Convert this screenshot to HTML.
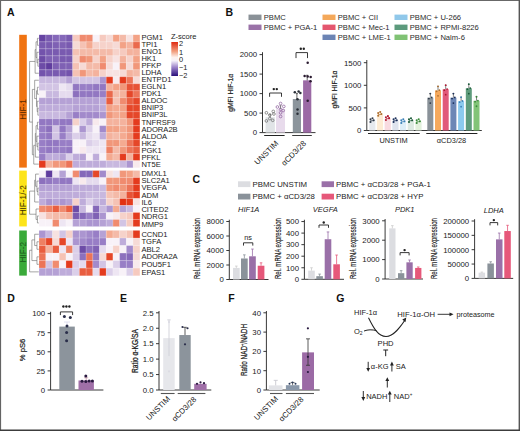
<!DOCTYPE html><html><head><meta charset="utf-8"><style>html,body{margin:0;padding:0;background:#fff;width:520px;height:431px;overflow:hidden}svg{display:block}</style></head><body>
<svg width="520" height="431" viewBox="0 0 520 431" font-family="Liberation Sans, sans-serif">
<rect x="0.00" y="0.00" width="520.00" height="431.00" fill="#fff"/>
<text x="7" y="15.6" font-size="10.5" text-anchor="start" fill="#111" font-weight="bold">A</text>
<rect x="19.20" y="34.80" width="7.60" height="132.81" fill="#f07312"/>
<text x="25.9" y="109.5" font-size="8.2" text-anchor="middle" fill="#5a2a00" transform="rotate(-90 25.9 109.5)">HIF-1</text>
<rect x="39.10" y="34.80" width="6.76" height="7.04" fill="#6644a3"/>
<rect x="45.81" y="34.80" width="6.76" height="7.04" fill="#795ab0"/>
<rect x="52.52" y="34.80" width="6.76" height="7.04" fill="#8568b9"/>
<rect x="59.23" y="34.80" width="6.76" height="7.04" fill="#8568b9"/>
<rect x="65.94" y="34.80" width="6.76" height="7.04" fill="#795ab0"/>
<rect x="72.65" y="34.80" width="6.76" height="7.04" fill="#f6cabf"/>
<rect x="79.36" y="34.80" width="6.76" height="7.04" fill="#f08b6f"/>
<rect x="86.07" y="34.80" width="6.76" height="7.04" fill="#f08b6f"/>
<rect x="92.78" y="34.80" width="6.76" height="7.04" fill="#f8f2f8"/>
<rect x="99.49" y="34.80" width="6.76" height="7.04" fill="#f6cabf"/>
<rect x="106.20" y="34.80" width="6.76" height="7.04" fill="#f6dad6"/>
<rect x="112.91" y="34.80" width="6.76" height="7.04" fill="#f3a286"/>
<rect x="119.62" y="34.80" width="6.76" height="7.04" fill="#f4baa8"/>
<rect x="126.33" y="34.80" width="6.76" height="7.04" fill="#f7e2e1"/>
<rect x="133.04" y="34.80" width="6.76" height="7.04" fill="#f3a286"/>
<text x="141.4" y="39.9" font-size="7.6" text-anchor="start" fill="#222">PGM1</text>
<rect x="39.10" y="41.79" width="6.76" height="7.04" fill="#795ab0"/>
<rect x="45.81" y="41.79" width="6.76" height="7.04" fill="#795ab0"/>
<rect x="52.52" y="41.79" width="6.76" height="7.04" fill="#7f61b4"/>
<rect x="59.23" y="41.79" width="6.76" height="7.04" fill="#7f61b4"/>
<rect x="65.94" y="41.79" width="6.76" height="7.04" fill="#795ab0"/>
<rect x="72.65" y="41.79" width="6.76" height="7.04" fill="#f6dad6"/>
<rect x="79.36" y="41.79" width="6.76" height="7.04" fill="#f5c2b4"/>
<rect x="86.07" y="41.79" width="6.76" height="7.04" fill="#f4aa91"/>
<rect x="92.78" y="41.79" width="6.76" height="7.04" fill="#f6d2ca"/>
<rect x="99.49" y="41.79" width="6.76" height="7.04" fill="#f6d2ca"/>
<rect x="106.20" y="41.79" width="6.76" height="7.04" fill="#f6d2ca"/>
<rect x="112.91" y="41.79" width="6.76" height="7.04" fill="#f6dad6"/>
<rect x="119.62" y="41.79" width="6.76" height="7.04" fill="#f3a286"/>
<rect x="126.33" y="41.79" width="6.76" height="7.04" fill="#f4b29d"/>
<rect x="133.04" y="41.79" width="6.76" height="7.04" fill="#ea694c"/>
<text x="141.4" y="46.949999999999996" font-size="7.6" text-anchor="start" fill="#222">TPI1</text>
<rect x="39.10" y="48.78" width="6.76" height="7.04" fill="#7353ac"/>
<rect x="45.81" y="48.78" width="6.76" height="7.04" fill="#795ab0"/>
<rect x="52.52" y="48.78" width="6.76" height="7.04" fill="#795ab0"/>
<rect x="59.23" y="48.78" width="6.76" height="7.04" fill="#795ab0"/>
<rect x="65.94" y="48.78" width="6.76" height="7.04" fill="#795ab0"/>
<rect x="72.65" y="48.78" width="6.76" height="7.04" fill="#f5c2b4"/>
<rect x="79.36" y="48.78" width="6.76" height="7.04" fill="#f4baa8"/>
<rect x="86.07" y="48.78" width="6.76" height="7.04" fill="#f4baa8"/>
<rect x="92.78" y="48.78" width="6.76" height="7.04" fill="#f4baa8"/>
<rect x="99.49" y="48.78" width="6.76" height="7.04" fill="#f4baa8"/>
<rect x="106.20" y="48.78" width="6.76" height="7.04" fill="#f4baa8"/>
<rect x="112.91" y="48.78" width="6.76" height="7.04" fill="#f6d2ca"/>
<rect x="119.62" y="48.78" width="6.76" height="7.04" fill="#f6cabf"/>
<rect x="126.33" y="48.78" width="6.76" height="7.04" fill="#f4b29d"/>
<rect x="133.04" y="48.78" width="6.76" height="7.04" fill="#f4b29d"/>
<text x="141.4" y="54.0" font-size="7.6" text-anchor="start" fill="#222">ENO1</text>
<rect x="39.10" y="55.77" width="6.76" height="7.04" fill="#6d4ca7"/>
<rect x="45.81" y="55.77" width="6.76" height="7.04" fill="#7f61b4"/>
<rect x="52.52" y="55.77" width="6.76" height="7.04" fill="#7f61b4"/>
<rect x="59.23" y="55.77" width="6.76" height="7.04" fill="#795ab0"/>
<rect x="65.94" y="55.77" width="6.76" height="7.04" fill="#795ab0"/>
<rect x="72.65" y="55.77" width="6.76" height="7.04" fill="#f6d2ca"/>
<rect x="79.36" y="55.77" width="6.76" height="7.04" fill="#f08b6f"/>
<rect x="86.07" y="55.77" width="6.76" height="7.04" fill="#f1977a"/>
<rect x="92.78" y="55.77" width="6.76" height="7.04" fill="#f6d2ca"/>
<rect x="99.49" y="55.77" width="6.76" height="7.04" fill="#f3a286"/>
<rect x="106.20" y="55.77" width="6.76" height="7.04" fill="#f6d2ca"/>
<rect x="112.91" y="55.77" width="6.76" height="7.04" fill="#f7e2e1"/>
<rect x="119.62" y="55.77" width="6.76" height="7.04" fill="#f4b29d"/>
<rect x="126.33" y="55.77" width="6.76" height="7.04" fill="#f6d2ca"/>
<rect x="133.04" y="55.77" width="6.76" height="7.04" fill="#f3a286"/>
<text x="141.4" y="61.05" font-size="7.6" text-anchor="start" fill="#222">HK1</text>
<rect x="39.10" y="62.76" width="6.76" height="7.04" fill="#6d4ca7"/>
<rect x="45.81" y="62.76" width="6.76" height="7.04" fill="#603d9e"/>
<rect x="52.52" y="62.76" width="6.76" height="7.04" fill="#7f61b4"/>
<rect x="59.23" y="62.76" width="6.76" height="7.04" fill="#7f61b4"/>
<rect x="65.94" y="62.76" width="6.76" height="7.04" fill="#7f61b4"/>
<rect x="72.65" y="62.76" width="6.76" height="7.04" fill="#f5c2b4"/>
<rect x="79.36" y="62.76" width="6.76" height="7.04" fill="#f6dad6"/>
<rect x="86.07" y="62.76" width="6.76" height="7.04" fill="#f4baa8"/>
<rect x="92.78" y="62.76" width="6.76" height="7.04" fill="#f4baa8"/>
<rect x="99.49" y="62.76" width="6.76" height="7.04" fill="#f08b6f"/>
<rect x="106.20" y="62.76" width="6.76" height="7.04" fill="#f6dad6"/>
<rect x="112.91" y="62.76" width="6.76" height="7.04" fill="#f8f2f8"/>
<rect x="119.62" y="62.76" width="6.76" height="7.04" fill="#f1977a"/>
<rect x="126.33" y="62.76" width="6.76" height="7.04" fill="#f6dad6"/>
<rect x="133.04" y="62.76" width="6.76" height="7.04" fill="#f1977a"/>
<text x="141.4" y="68.1" font-size="7.6" text-anchor="start" fill="#222">PFKP</text>
<rect x="39.10" y="69.75" width="6.76" height="7.04" fill="#7353ac"/>
<rect x="45.81" y="69.75" width="6.76" height="7.04" fill="#795ab0"/>
<rect x="52.52" y="69.75" width="6.76" height="7.04" fill="#795ab0"/>
<rect x="59.23" y="69.75" width="6.76" height="7.04" fill="#795ab0"/>
<rect x="65.94" y="69.75" width="6.76" height="7.04" fill="#7353ac"/>
<rect x="72.65" y="69.75" width="6.76" height="7.04" fill="#f5c2b4"/>
<rect x="79.36" y="69.75" width="6.76" height="7.04" fill="#f1977a"/>
<rect x="86.07" y="69.75" width="6.76" height="7.04" fill="#f4baa8"/>
<rect x="92.78" y="69.75" width="6.76" height="7.04" fill="#f4b29d"/>
<rect x="99.49" y="69.75" width="6.76" height="7.04" fill="#f6d2ca"/>
<rect x="106.20" y="69.75" width="6.76" height="7.04" fill="#f7e2e1"/>
<rect x="112.91" y="69.75" width="6.76" height="7.04" fill="#f7e2e1"/>
<rect x="119.62" y="69.75" width="6.76" height="7.04" fill="#f6dad6"/>
<rect x="126.33" y="69.75" width="6.76" height="7.04" fill="#f4b29d"/>
<rect x="133.04" y="69.75" width="6.76" height="7.04" fill="#f4baa8"/>
<text x="141.4" y="75.15" font-size="7.6" text-anchor="start" fill="#222">LDHA</text>
<rect x="39.10" y="76.74" width="6.76" height="7.04" fill="#c8b8df"/>
<rect x="45.81" y="76.74" width="6.76" height="7.04" fill="#c8b8df"/>
<rect x="52.52" y="76.74" width="6.76" height="7.04" fill="#c8b8df"/>
<rect x="59.23" y="76.74" width="6.76" height="7.04" fill="#c8b8df"/>
<rect x="65.94" y="76.74" width="6.76" height="7.04" fill="#b5a1d5"/>
<rect x="72.65" y="76.74" width="6.76" height="7.04" fill="#d2c4e4"/>
<rect x="79.36" y="76.74" width="6.76" height="7.04" fill="#d2c4e4"/>
<rect x="86.07" y="76.74" width="6.76" height="7.04" fill="#d2c4e4"/>
<rect x="92.78" y="76.74" width="6.76" height="7.04" fill="#d2c4e4"/>
<rect x="99.49" y="76.74" width="6.76" height="7.04" fill="#ab95d0"/>
<rect x="106.20" y="76.74" width="6.76" height="7.04" fill="#e43b1e"/>
<rect x="112.91" y="76.74" width="6.76" height="7.04" fill="#f8eaed"/>
<rect x="119.62" y="76.74" width="6.76" height="7.04" fill="#e43b1e"/>
<rect x="126.33" y="76.74" width="6.76" height="7.04" fill="#ec7458"/>
<rect x="133.04" y="76.74" width="6.76" height="7.04" fill="#f6dad6"/>
<text x="141.4" y="82.19999999999999" font-size="7.6" text-anchor="start" fill="#222">ENTPD1</text>
<rect x="39.10" y="83.73" width="6.76" height="7.04" fill="#d2c4e4"/>
<rect x="45.81" y="83.73" width="6.76" height="7.04" fill="#d2c4e4"/>
<rect x="52.52" y="83.73" width="6.76" height="7.04" fill="#d2c4e4"/>
<rect x="59.23" y="83.73" width="6.76" height="7.04" fill="#eee6f3"/>
<rect x="65.94" y="83.73" width="6.76" height="7.04" fill="#e5dbee"/>
<rect x="72.65" y="83.73" width="6.76" height="7.04" fill="#9277c2"/>
<rect x="79.36" y="83.73" width="6.76" height="7.04" fill="#987ec6"/>
<rect x="86.07" y="83.73" width="6.76" height="7.04" fill="#987ec6"/>
<rect x="92.78" y="83.73" width="6.76" height="7.04" fill="#9277c2"/>
<rect x="99.49" y="83.73" width="6.76" height="7.04" fill="#9277c2"/>
<rect x="106.20" y="83.73" width="6.76" height="7.04" fill="#f4b29d"/>
<rect x="112.91" y="83.73" width="6.76" height="7.04" fill="#f3a286"/>
<rect x="119.62" y="83.73" width="6.76" height="7.04" fill="#f1977a"/>
<rect x="126.33" y="83.73" width="6.76" height="7.04" fill="#e75235"/>
<rect x="133.04" y="83.73" width="6.76" height="7.04" fill="#e75235"/>
<text x="141.4" y="89.25" font-size="7.6" text-anchor="start" fill="#222">EGLN1</text>
<rect x="39.10" y="90.72" width="6.76" height="7.04" fill="#f8f2f8"/>
<rect x="45.81" y="90.72" width="6.76" height="7.04" fill="#c8b8df"/>
<rect x="52.52" y="90.72" width="6.76" height="7.04" fill="#c8b8df"/>
<rect x="59.23" y="90.72" width="6.76" height="7.04" fill="#e5dbee"/>
<rect x="65.94" y="90.72" width="6.76" height="7.04" fill="#e5dbee"/>
<rect x="72.65" y="90.72" width="6.76" height="7.04" fill="#8c70bd"/>
<rect x="79.36" y="90.72" width="6.76" height="7.04" fill="#9277c2"/>
<rect x="86.07" y="90.72" width="6.76" height="7.04" fill="#9277c2"/>
<rect x="92.78" y="90.72" width="6.76" height="7.04" fill="#9277c2"/>
<rect x="99.49" y="90.72" width="6.76" height="7.04" fill="#987ec6"/>
<rect x="106.20" y="90.72" width="6.76" height="7.04" fill="#ea694c"/>
<rect x="112.91" y="90.72" width="6.76" height="7.04" fill="#f4baa8"/>
<rect x="119.62" y="90.72" width="6.76" height="7.04" fill="#f4b29d"/>
<rect x="126.33" y="90.72" width="6.76" height="7.04" fill="#e54729"/>
<rect x="133.04" y="90.72" width="6.76" height="7.04" fill="#ec7458"/>
<text x="141.4" y="96.3" font-size="7.6" text-anchor="start" fill="#222">PDK1</text>
<rect x="39.10" y="97.71" width="6.76" height="7.04" fill="#b5a1d5"/>
<rect x="45.81" y="97.71" width="6.76" height="7.04" fill="#b5a1d5"/>
<rect x="52.52" y="97.71" width="6.76" height="7.04" fill="#b5a1d5"/>
<rect x="59.23" y="97.71" width="6.76" height="7.04" fill="#b5a1d5"/>
<rect x="65.94" y="97.71" width="6.76" height="7.04" fill="#b5a1d5"/>
<rect x="72.65" y="97.71" width="6.76" height="7.04" fill="#b5a1d5"/>
<rect x="79.36" y="97.71" width="6.76" height="7.04" fill="#b5a1d5"/>
<rect x="86.07" y="97.71" width="6.76" height="7.04" fill="#b5a1d5"/>
<rect x="92.78" y="97.71" width="6.76" height="7.04" fill="#b5a1d5"/>
<rect x="99.49" y="97.71" width="6.76" height="7.04" fill="#beacda"/>
<rect x="106.20" y="97.71" width="6.76" height="7.04" fill="#e95e40"/>
<rect x="112.91" y="97.71" width="6.76" height="7.04" fill="#f5c2b4"/>
<rect x="119.62" y="97.71" width="6.76" height="7.04" fill="#f08b6f"/>
<rect x="126.33" y="97.71" width="6.76" height="7.04" fill="#e95e40"/>
<rect x="133.04" y="97.71" width="6.76" height="7.04" fill="#e54729"/>
<text x="141.4" y="103.35" font-size="7.6" text-anchor="start" fill="#222">ALDOC</text>
<rect x="39.10" y="104.70" width="6.76" height="7.04" fill="#beacda"/>
<rect x="45.81" y="104.70" width="6.76" height="7.04" fill="#beacda"/>
<rect x="52.52" y="104.70" width="6.76" height="7.04" fill="#beacda"/>
<rect x="59.23" y="104.70" width="6.76" height="7.04" fill="#beacda"/>
<rect x="65.94" y="104.70" width="6.76" height="7.04" fill="#beacda"/>
<rect x="72.65" y="104.70" width="6.76" height="7.04" fill="#b5a1d5"/>
<rect x="79.36" y="104.70" width="6.76" height="7.04" fill="#b5a1d5"/>
<rect x="86.07" y="104.70" width="6.76" height="7.04" fill="#b5a1d5"/>
<rect x="92.78" y="104.70" width="6.76" height="7.04" fill="#b5a1d5"/>
<rect x="99.49" y="104.70" width="6.76" height="7.04" fill="#beacda"/>
<rect x="106.20" y="104.70" width="6.76" height="7.04" fill="#f3a286"/>
<rect x="112.91" y="104.70" width="6.76" height="7.04" fill="#f4aa91"/>
<rect x="119.62" y="104.70" width="6.76" height="7.04" fill="#f3a286"/>
<rect x="126.33" y="104.70" width="6.76" height="7.04" fill="#e54729"/>
<rect x="133.04" y="104.70" width="6.76" height="7.04" fill="#e54729"/>
<text x="141.4" y="110.4" font-size="7.6" text-anchor="start" fill="#222">BNIP3</text>
<rect x="39.10" y="111.69" width="6.76" height="7.04" fill="#c8b8df"/>
<rect x="45.81" y="111.69" width="6.76" height="7.04" fill="#c8b8df"/>
<rect x="52.52" y="111.69" width="6.76" height="7.04" fill="#c8b8df"/>
<rect x="59.23" y="111.69" width="6.76" height="7.04" fill="#c8b8df"/>
<rect x="65.94" y="111.69" width="6.76" height="7.04" fill="#b5a1d5"/>
<rect x="72.65" y="111.69" width="6.76" height="7.04" fill="#987ec6"/>
<rect x="79.36" y="111.69" width="6.76" height="7.04" fill="#a28acb"/>
<rect x="86.07" y="111.69" width="6.76" height="7.04" fill="#a28acb"/>
<rect x="92.78" y="111.69" width="6.76" height="7.04" fill="#a28acb"/>
<rect x="99.49" y="111.69" width="6.76" height="7.04" fill="#ab95d0"/>
<rect x="106.20" y="111.69" width="6.76" height="7.04" fill="#f1977a"/>
<rect x="112.91" y="111.69" width="6.76" height="7.04" fill="#f4aa91"/>
<rect x="119.62" y="111.69" width="6.76" height="7.04" fill="#f3a286"/>
<rect x="126.33" y="111.69" width="6.76" height="7.04" fill="#e54729"/>
<rect x="133.04" y="111.69" width="6.76" height="7.04" fill="#e54729"/>
<text x="141.4" y="117.44999999999999" font-size="7.6" text-anchor="start" fill="#222">BNIP3L</text>
<rect x="39.10" y="118.68" width="6.76" height="7.04" fill="#9277c2"/>
<rect x="45.81" y="118.68" width="6.76" height="7.04" fill="#9277c2"/>
<rect x="52.52" y="118.68" width="6.76" height="7.04" fill="#987ec6"/>
<rect x="59.23" y="118.68" width="6.76" height="7.04" fill="#9277c2"/>
<rect x="65.94" y="118.68" width="6.76" height="7.04" fill="#9277c2"/>
<rect x="72.65" y="118.68" width="6.76" height="7.04" fill="#f6d2ca"/>
<rect x="79.36" y="118.68" width="6.76" height="7.04" fill="#dbcfe9"/>
<rect x="86.07" y="118.68" width="6.76" height="7.04" fill="#beacda"/>
<rect x="92.78" y="118.68" width="6.76" height="7.04" fill="#f8eaed"/>
<rect x="99.49" y="118.68" width="6.76" height="7.04" fill="#f8f2f8"/>
<rect x="106.20" y="118.68" width="6.76" height="7.04" fill="#f4b29d"/>
<rect x="112.91" y="118.68" width="6.76" height="7.04" fill="#f4b29d"/>
<rect x="119.62" y="118.68" width="6.76" height="7.04" fill="#f4b29d"/>
<rect x="126.33" y="118.68" width="6.76" height="7.04" fill="#f1977a"/>
<rect x="133.04" y="118.68" width="6.76" height="7.04" fill="#e43b1e"/>
<text x="141.4" y="124.5" font-size="7.6" text-anchor="start" fill="#222">TNFRSF9</text>
<rect x="39.10" y="125.67" width="6.76" height="7.04" fill="#987ec6"/>
<rect x="45.81" y="125.67" width="6.76" height="7.04" fill="#8c70bd"/>
<rect x="52.52" y="125.67" width="6.76" height="7.04" fill="#d2c4e4"/>
<rect x="59.23" y="125.67" width="6.76" height="7.04" fill="#9277c2"/>
<rect x="65.94" y="125.67" width="6.76" height="7.04" fill="#b5a1d5"/>
<rect x="72.65" y="125.67" width="6.76" height="7.04" fill="#f8f2f8"/>
<rect x="79.36" y="125.67" width="6.76" height="7.04" fill="#ab95d0"/>
<rect x="86.07" y="125.67" width="6.76" height="7.04" fill="#dbcfe9"/>
<rect x="92.78" y="125.67" width="6.76" height="7.04" fill="#f8f2f8"/>
<rect x="99.49" y="125.67" width="6.76" height="7.04" fill="#a28acb"/>
<rect x="106.20" y="125.67" width="6.76" height="7.04" fill="#f3a286"/>
<rect x="112.91" y="125.67" width="6.76" height="7.04" fill="#f3a286"/>
<rect x="119.62" y="125.67" width="6.76" height="7.04" fill="#f4aa91"/>
<rect x="126.33" y="125.67" width="6.76" height="7.04" fill="#f1977a"/>
<rect x="133.04" y="125.67" width="6.76" height="7.04" fill="#e43b1e"/>
<text x="141.4" y="131.54999999999998" font-size="7.6" text-anchor="start" fill="#222">ADORA2B</text>
<rect x="39.10" y="132.66" width="6.76" height="7.04" fill="#987ec6"/>
<rect x="45.81" y="132.66" width="6.76" height="7.04" fill="#9277c2"/>
<rect x="52.52" y="132.66" width="6.76" height="7.04" fill="#d2c4e4"/>
<rect x="59.23" y="132.66" width="6.76" height="7.04" fill="#987ec6"/>
<rect x="65.94" y="132.66" width="6.76" height="7.04" fill="#beacda"/>
<rect x="72.65" y="132.66" width="6.76" height="7.04" fill="#dbcfe9"/>
<rect x="79.36" y="132.66" width="6.76" height="7.04" fill="#c8b8df"/>
<rect x="86.07" y="132.66" width="6.76" height="7.04" fill="#e5dbee"/>
<rect x="92.78" y="132.66" width="6.76" height="7.04" fill="#eee6f3"/>
<rect x="99.49" y="132.66" width="6.76" height="7.04" fill="#beacda"/>
<rect x="106.20" y="132.66" width="6.76" height="7.04" fill="#f4b29d"/>
<rect x="112.91" y="132.66" width="6.76" height="7.04" fill="#f4baa8"/>
<rect x="119.62" y="132.66" width="6.76" height="7.04" fill="#f4aa91"/>
<rect x="126.33" y="132.66" width="6.76" height="7.04" fill="#f1977a"/>
<rect x="133.04" y="132.66" width="6.76" height="7.04" fill="#e43b1e"/>
<text x="141.4" y="138.6" font-size="7.6" text-anchor="start" fill="#222">ALDOA</text>
<rect x="39.10" y="139.65" width="6.76" height="7.04" fill="#987ec6"/>
<rect x="45.81" y="139.65" width="6.76" height="7.04" fill="#9277c2"/>
<rect x="52.52" y="139.65" width="6.76" height="7.04" fill="#9277c2"/>
<rect x="59.23" y="139.65" width="6.76" height="7.04" fill="#987ec6"/>
<rect x="65.94" y="139.65" width="6.76" height="7.04" fill="#987ec6"/>
<rect x="72.65" y="139.65" width="6.76" height="7.04" fill="#f8f2f8"/>
<rect x="79.36" y="139.65" width="6.76" height="7.04" fill="#f8f2f8"/>
<rect x="86.07" y="139.65" width="6.76" height="7.04" fill="#dbcfe9"/>
<rect x="92.78" y="139.65" width="6.76" height="7.04" fill="#e5dbee"/>
<rect x="99.49" y="139.65" width="6.76" height="7.04" fill="#eee6f3"/>
<rect x="106.20" y="139.65" width="6.76" height="7.04" fill="#f1977a"/>
<rect x="112.91" y="139.65" width="6.76" height="7.04" fill="#f1977a"/>
<rect x="119.62" y="139.65" width="6.76" height="7.04" fill="#f4aa91"/>
<rect x="126.33" y="139.65" width="6.76" height="7.04" fill="#ec7458"/>
<rect x="133.04" y="139.65" width="6.76" height="7.04" fill="#e54729"/>
<text x="141.4" y="145.65" font-size="7.6" text-anchor="start" fill="#222">HK2</text>
<rect x="39.10" y="146.64" width="6.76" height="7.04" fill="#987ec6"/>
<rect x="45.81" y="146.64" width="6.76" height="7.04" fill="#9277c2"/>
<rect x="52.52" y="146.64" width="6.76" height="7.04" fill="#987ec6"/>
<rect x="59.23" y="146.64" width="6.76" height="7.04" fill="#987ec6"/>
<rect x="65.94" y="146.64" width="6.76" height="7.04" fill="#9277c2"/>
<rect x="72.65" y="146.64" width="6.76" height="7.04" fill="#f8f2f8"/>
<rect x="79.36" y="146.64" width="6.76" height="7.04" fill="#f8eaed"/>
<rect x="86.07" y="146.64" width="6.76" height="7.04" fill="#eee6f3"/>
<rect x="92.78" y="146.64" width="6.76" height="7.04" fill="#eee6f3"/>
<rect x="99.49" y="146.64" width="6.76" height="7.04" fill="#eee6f3"/>
<rect x="106.20" y="146.64" width="6.76" height="7.04" fill="#ee8063"/>
<rect x="112.91" y="146.64" width="6.76" height="7.04" fill="#f4baa8"/>
<rect x="119.62" y="146.64" width="6.76" height="7.04" fill="#f1977a"/>
<rect x="126.33" y="146.64" width="6.76" height="7.04" fill="#ec7458"/>
<rect x="133.04" y="146.64" width="6.76" height="7.04" fill="#e95e40"/>
<text x="141.4" y="152.7" font-size="7.6" text-anchor="start" fill="#222">PGK1</text>
<rect x="39.10" y="153.63" width="6.76" height="7.04" fill="#987ec6"/>
<rect x="45.81" y="153.63" width="6.76" height="7.04" fill="#beacda"/>
<rect x="52.52" y="153.63" width="6.76" height="7.04" fill="#beacda"/>
<rect x="59.23" y="153.63" width="6.76" height="7.04" fill="#b5a1d5"/>
<rect x="65.94" y="153.63" width="6.76" height="7.04" fill="#dbcfe9"/>
<rect x="72.65" y="153.63" width="6.76" height="7.04" fill="#beacda"/>
<rect x="79.36" y="153.63" width="6.76" height="7.04" fill="#b5a1d5"/>
<rect x="86.07" y="153.63" width="6.76" height="7.04" fill="#f8f2f8"/>
<rect x="92.78" y="153.63" width="6.76" height="7.04" fill="#beacda"/>
<rect x="99.49" y="153.63" width="6.76" height="7.04" fill="#f8f2f8"/>
<rect x="106.20" y="153.63" width="6.76" height="7.04" fill="#f4aa91"/>
<rect x="112.91" y="153.63" width="6.76" height="7.04" fill="#f4baa8"/>
<rect x="119.62" y="153.63" width="6.76" height="7.04" fill="#e43b1e"/>
<rect x="126.33" y="153.63" width="6.76" height="7.04" fill="#f4b29d"/>
<rect x="133.04" y="153.63" width="6.76" height="7.04" fill="#e43b1e"/>
<text x="141.4" y="159.75" font-size="7.6" text-anchor="start" fill="#222">PFKL</text>
<rect x="39.10" y="160.62" width="6.76" height="7.04" fill="#e43b1e"/>
<rect x="45.81" y="160.62" width="6.76" height="7.04" fill="#f4b29d"/>
<rect x="52.52" y="160.62" width="6.76" height="7.04" fill="#f1977a"/>
<rect x="59.23" y="160.62" width="6.76" height="7.04" fill="#f1977a"/>
<rect x="65.94" y="160.62" width="6.76" height="7.04" fill="#ec7458"/>
<rect x="72.65" y="160.62" width="6.76" height="7.04" fill="#beacda"/>
<rect x="79.36" y="160.62" width="6.76" height="7.04" fill="#beacda"/>
<rect x="86.07" y="160.62" width="6.76" height="7.04" fill="#beacda"/>
<rect x="92.78" y="160.62" width="6.76" height="7.04" fill="#beacda"/>
<rect x="99.49" y="160.62" width="6.76" height="7.04" fill="#beacda"/>
<rect x="106.20" y="160.62" width="6.76" height="7.04" fill="#c8b8df"/>
<rect x="112.91" y="160.62" width="6.76" height="7.04" fill="#c8b8df"/>
<rect x="119.62" y="160.62" width="6.76" height="7.04" fill="#c8b8df"/>
<rect x="126.33" y="160.62" width="6.76" height="7.04" fill="#ab95d0"/>
<rect x="133.04" y="160.62" width="6.76" height="7.04" fill="#f8eaed"/>
<text x="141.4" y="166.79999999999998" font-size="7.6" text-anchor="start" fill="#222">NT5E</text>
<line x1="39.1" y1="41.79" x2="139.75" y2="41.79" stroke="#fff" stroke-width="0.45" stroke-opacity="0.5"/>
<line x1="39.1" y1="48.78" x2="139.75" y2="48.78" stroke="#fff" stroke-width="0.45" stroke-opacity="0.5"/>
<line x1="39.1" y1="55.769999999999996" x2="139.75" y2="55.769999999999996" stroke="#fff" stroke-width="0.45" stroke-opacity="0.5"/>
<line x1="39.1" y1="62.76" x2="139.75" y2="62.76" stroke="#fff" stroke-width="0.45" stroke-opacity="0.5"/>
<line x1="39.1" y1="69.75" x2="139.75" y2="69.75" stroke="#fff" stroke-width="0.45" stroke-opacity="0.5"/>
<line x1="39.1" y1="76.74" x2="139.75" y2="76.74" stroke="#fff" stroke-width="0.45" stroke-opacity="0.5"/>
<line x1="39.1" y1="83.72999999999999" x2="139.75" y2="83.72999999999999" stroke="#fff" stroke-width="0.45" stroke-opacity="0.5"/>
<line x1="39.1" y1="90.72" x2="139.75" y2="90.72" stroke="#fff" stroke-width="0.45" stroke-opacity="0.5"/>
<line x1="39.1" y1="97.71000000000001" x2="139.75" y2="97.71000000000001" stroke="#fff" stroke-width="0.45" stroke-opacity="0.5"/>
<line x1="39.1" y1="104.7" x2="139.75" y2="104.7" stroke="#fff" stroke-width="0.45" stroke-opacity="0.5"/>
<line x1="39.1" y1="111.69" x2="139.75" y2="111.69" stroke="#fff" stroke-width="0.45" stroke-opacity="0.5"/>
<line x1="39.1" y1="118.67999999999999" x2="139.75" y2="118.67999999999999" stroke="#fff" stroke-width="0.45" stroke-opacity="0.5"/>
<line x1="39.1" y1="125.67" x2="139.75" y2="125.67" stroke="#fff" stroke-width="0.45" stroke-opacity="0.5"/>
<line x1="39.1" y1="132.66" x2="139.75" y2="132.66" stroke="#fff" stroke-width="0.45" stroke-opacity="0.5"/>
<line x1="39.1" y1="139.65" x2="139.75" y2="139.65" stroke="#fff" stroke-width="0.45" stroke-opacity="0.5"/>
<line x1="39.1" y1="146.64" x2="139.75" y2="146.64" stroke="#fff" stroke-width="0.45" stroke-opacity="0.5"/>
<line x1="39.1" y1="153.63" x2="139.75" y2="153.63" stroke="#fff" stroke-width="0.45" stroke-opacity="0.5"/>
<line x1="39.1" y1="160.62" x2="139.75" y2="160.62" stroke="#fff" stroke-width="0.45" stroke-opacity="0.5"/>
<line x1="45.81" y1="34.8" x2="45.81" y2="167.61" stroke="#fff" stroke-width="0.45" stroke-opacity="0.5"/>
<line x1="52.52" y1="34.8" x2="52.52" y2="167.61" stroke="#fff" stroke-width="0.45" stroke-opacity="0.5"/>
<line x1="59.230000000000004" y1="34.8" x2="59.230000000000004" y2="167.61" stroke="#fff" stroke-width="0.45" stroke-opacity="0.5"/>
<line x1="65.94" y1="34.8" x2="65.94" y2="167.61" stroke="#fff" stroke-width="0.45" stroke-opacity="0.5"/>
<line x1="72.65" y1="34.8" x2="72.65" y2="167.61" stroke="#fff" stroke-width="0.45" stroke-opacity="0.5"/>
<line x1="79.36" y1="34.8" x2="79.36" y2="167.61" stroke="#fff" stroke-width="0.45" stroke-opacity="0.5"/>
<line x1="86.07" y1="34.8" x2="86.07" y2="167.61" stroke="#fff" stroke-width="0.45" stroke-opacity="0.5"/>
<line x1="92.78" y1="34.8" x2="92.78" y2="167.61" stroke="#fff" stroke-width="0.45" stroke-opacity="0.5"/>
<line x1="99.49000000000001" y1="34.8" x2="99.49000000000001" y2="167.61" stroke="#fff" stroke-width="0.45" stroke-opacity="0.5"/>
<line x1="106.19999999999999" y1="34.8" x2="106.19999999999999" y2="167.61" stroke="#fff" stroke-width="0.45" stroke-opacity="0.5"/>
<line x1="112.91" y1="34.8" x2="112.91" y2="167.61" stroke="#fff" stroke-width="0.45" stroke-opacity="0.5"/>
<line x1="119.62" y1="34.8" x2="119.62" y2="167.61" stroke="#fff" stroke-width="0.45" stroke-opacity="0.5"/>
<line x1="126.33000000000001" y1="34.8" x2="126.33000000000001" y2="167.61" stroke="#fff" stroke-width="0.45" stroke-opacity="0.5"/>
<line x1="133.04" y1="34.8" x2="133.04" y2="167.61" stroke="#fff" stroke-width="0.45" stroke-opacity="0.5"/>
<line x1="38.8" y1="38.294999999999995" x2="37.419999999999995" y2="38.294999999999995" stroke="#6a6a6a" stroke-width="0.6"/>
<line x1="38.8" y1="45.285" x2="37.419999999999995" y2="45.285" stroke="#6a6a6a" stroke-width="0.6"/>
<line x1="37.419999999999995" y1="38.294999999999995" x2="37.419999999999995" y2="45.285" stroke="#6a6a6a" stroke-width="0.6"/>
<line x1="38.8" y1="59.26499999999999" x2="37.879999999999995" y2="59.26499999999999" stroke="#6a6a6a" stroke-width="0.6"/>
<line x1="38.8" y1="66.255" x2="37.879999999999995" y2="66.255" stroke="#6a6a6a" stroke-width="0.6"/>
<line x1="37.879999999999995" y1="59.26499999999999" x2="37.879999999999995" y2="66.255" stroke="#6a6a6a" stroke-width="0.6"/>
<line x1="38.8" y1="52.275" x2="36.959999999999994" y2="52.275" stroke="#6a6a6a" stroke-width="0.6"/>
<line x1="37.879999999999995" y1="62.75999999999999" x2="36.959999999999994" y2="62.75999999999999" stroke="#6a6a6a" stroke-width="0.6"/>
<line x1="36.959999999999994" y1="52.275" x2="36.959999999999994" y2="62.75999999999999" stroke="#6a6a6a" stroke-width="0.6"/>
<line x1="37.419999999999995" y1="41.78999999999999" x2="36.04" y2="41.78999999999999" stroke="#6a6a6a" stroke-width="0.6"/>
<line x1="36.959999999999994" y1="57.5175" x2="36.04" y2="57.5175" stroke="#6a6a6a" stroke-width="0.6"/>
<line x1="36.04" y1="41.78999999999999" x2="36.04" y2="57.5175" stroke="#6a6a6a" stroke-width="0.6"/>
<line x1="36.04" y1="49.653749999999995" x2="35.12" y2="49.653749999999995" stroke="#6a6a6a" stroke-width="0.6"/>
<line x1="38.8" y1="73.245" x2="35.12" y2="73.245" stroke="#6a6a6a" stroke-width="0.6"/>
<line x1="35.12" y1="49.653749999999995" x2="35.12" y2="73.245" stroke="#6a6a6a" stroke-width="0.6"/>
<line x1="38.8" y1="87.225" x2="37.419999999999995" y2="87.225" stroke="#6a6a6a" stroke-width="0.6"/>
<line x1="38.8" y1="94.215" x2="37.419999999999995" y2="94.215" stroke="#6a6a6a" stroke-width="0.6"/>
<line x1="37.419999999999995" y1="87.225" x2="37.419999999999995" y2="94.215" stroke="#6a6a6a" stroke-width="0.6"/>
<line x1="38.8" y1="108.19500000000001" x2="37.879999999999995" y2="108.19500000000001" stroke="#6a6a6a" stroke-width="0.6"/>
<line x1="38.8" y1="115.185" x2="37.879999999999995" y2="115.185" stroke="#6a6a6a" stroke-width="0.6"/>
<line x1="37.879999999999995" y1="108.19500000000001" x2="37.879999999999995" y2="115.185" stroke="#6a6a6a" stroke-width="0.6"/>
<line x1="38.8" y1="101.20500000000001" x2="37.19" y2="101.20500000000001" stroke="#6a6a6a" stroke-width="0.6"/>
<line x1="37.879999999999995" y1="111.69" x2="37.19" y2="111.69" stroke="#6a6a6a" stroke-width="0.6"/>
<line x1="37.19" y1="101.20500000000001" x2="37.19" y2="111.69" stroke="#6a6a6a" stroke-width="0.6"/>
<line x1="37.419999999999995" y1="90.72" x2="36.5" y2="90.72" stroke="#6a6a6a" stroke-width="0.6"/>
<line x1="37.19" y1="106.4475" x2="36.5" y2="106.4475" stroke="#6a6a6a" stroke-width="0.6"/>
<line x1="36.5" y1="90.72" x2="36.5" y2="106.4475" stroke="#6a6a6a" stroke-width="0.6"/>
<line x1="38.8" y1="80.235" x2="34.66" y2="80.235" stroke="#6a6a6a" stroke-width="0.6"/>
<line x1="36.5" y1="98.58375000000001" x2="34.66" y2="98.58375000000001" stroke="#6a6a6a" stroke-width="0.6"/>
<line x1="34.66" y1="80.235" x2="34.66" y2="98.58375000000001" stroke="#6a6a6a" stroke-width="0.6"/>
<line x1="38.8" y1="122.175" x2="37.419999999999995" y2="122.175" stroke="#6a6a6a" stroke-width="0.6"/>
<line x1="38.8" y1="129.165" x2="37.419999999999995" y2="129.165" stroke="#6a6a6a" stroke-width="0.6"/>
<line x1="37.419999999999995" y1="122.175" x2="37.419999999999995" y2="129.165" stroke="#6a6a6a" stroke-width="0.6"/>
<line x1="38.8" y1="143.145" x2="37.879999999999995" y2="143.145" stroke="#6a6a6a" stroke-width="0.6"/>
<line x1="38.8" y1="150.135" x2="37.879999999999995" y2="150.135" stroke="#6a6a6a" stroke-width="0.6"/>
<line x1="37.879999999999995" y1="143.145" x2="37.879999999999995" y2="150.135" stroke="#6a6a6a" stroke-width="0.6"/>
<line x1="38.8" y1="136.155" x2="36.959999999999994" y2="136.155" stroke="#6a6a6a" stroke-width="0.6"/>
<line x1="37.879999999999995" y1="146.64" x2="36.959999999999994" y2="146.64" stroke="#6a6a6a" stroke-width="0.6"/>
<line x1="36.959999999999994" y1="136.155" x2="36.959999999999994" y2="146.64" stroke="#6a6a6a" stroke-width="0.6"/>
<line x1="37.419999999999995" y1="125.66999999999999" x2="36.04" y2="125.66999999999999" stroke="#6a6a6a" stroke-width="0.6"/>
<line x1="36.959999999999994" y1="141.39749999999998" x2="36.04" y2="141.39749999999998" stroke="#6a6a6a" stroke-width="0.6"/>
<line x1="36.04" y1="125.66999999999999" x2="36.04" y2="141.39749999999998" stroke="#6a6a6a" stroke-width="0.6"/>
<line x1="36.04" y1="133.53375" x2="35.349999999999994" y2="133.53375" stroke="#6a6a6a" stroke-width="0.6"/>
<line x1="38.8" y1="157.125" x2="35.349999999999994" y2="157.125" stroke="#6a6a6a" stroke-width="0.6"/>
<line x1="35.349999999999994" y1="133.53375" x2="35.349999999999994" y2="157.125" stroke="#6a6a6a" stroke-width="0.6"/>
<line x1="35.349999999999994" y1="145.329375" x2="33.739999999999995" y2="145.329375" stroke="#6a6a6a" stroke-width="0.6"/>
<line x1="38.8" y1="164.115" x2="33.739999999999995" y2="164.115" stroke="#6a6a6a" stroke-width="0.6"/>
<line x1="33.739999999999995" y1="145.329375" x2="33.739999999999995" y2="164.115" stroke="#6a6a6a" stroke-width="0.6"/>
<line x1="34.66" y1="89.40937500000001" x2="32.36" y2="89.40937500000001" stroke="#6a6a6a" stroke-width="0.6"/>
<line x1="33.739999999999995" y1="154.72218750000002" x2="32.36" y2="154.72218750000002" stroke="#6a6a6a" stroke-width="0.6"/>
<line x1="32.36" y1="89.40937500000001" x2="32.36" y2="154.72218750000002" stroke="#6a6a6a" stroke-width="0.6"/>
<line x1="35.12" y1="61.449375" x2="29.599999999999998" y2="61.449375" stroke="#6a6a6a" stroke-width="0.6"/>
<line x1="32.36" y1="122.06578125000001" x2="29.599999999999998" y2="122.06578125000001" stroke="#6a6a6a" stroke-width="0.6"/>
<line x1="29.599999999999998" y1="61.449375" x2="29.599999999999998" y2="122.06578125000001" stroke="#6a6a6a" stroke-width="0.6"/>
<rect x="19.20" y="170.60" width="7.60" height="55.84" fill="#fde41a"/>
<text x="25.9" y="200.3" font-size="8.2" text-anchor="middle" fill="#3a3000" transform="rotate(-90 25.9 200.3)">HIF-1/-2</text>
<rect x="39.10" y="170.60" width="6.76" height="7.03" fill="#f8f2f8"/>
<rect x="45.81" y="170.60" width="6.76" height="7.03" fill="#603d9e"/>
<rect x="52.52" y="170.60" width="6.76" height="7.03" fill="#eee6f3"/>
<rect x="59.23" y="170.60" width="6.76" height="7.03" fill="#b5a1d5"/>
<rect x="65.94" y="170.60" width="6.76" height="7.03" fill="#f8f2f8"/>
<rect x="72.65" y="170.60" width="6.76" height="7.03" fill="#f08b6f"/>
<rect x="79.36" y="170.60" width="6.76" height="7.03" fill="#8568b9"/>
<rect x="86.07" y="170.60" width="6.76" height="7.03" fill="#8568b9"/>
<rect x="92.78" y="170.60" width="6.76" height="7.03" fill="#e54729"/>
<rect x="99.49" y="170.60" width="6.76" height="7.03" fill="#a28acb"/>
<rect x="106.20" y="170.60" width="6.76" height="7.03" fill="#f7e2e1"/>
<rect x="112.91" y="170.60" width="6.76" height="7.03" fill="#eee6f3"/>
<rect x="119.62" y="170.60" width="6.76" height="7.03" fill="#f1977a"/>
<rect x="126.33" y="170.60" width="6.76" height="7.03" fill="#f3a286"/>
<rect x="133.04" y="170.60" width="6.76" height="7.03" fill="#f4baa8"/>
<text x="141.4" y="176.0" font-size="7.6" text-anchor="start" fill="#222">DMXL1</text>
<rect x="39.10" y="177.58" width="6.76" height="7.03" fill="#8c70bd"/>
<rect x="45.81" y="177.58" width="6.76" height="7.03" fill="#9277c2"/>
<rect x="52.52" y="177.58" width="6.76" height="7.03" fill="#987ec6"/>
<rect x="59.23" y="177.58" width="6.76" height="7.03" fill="#9277c2"/>
<rect x="65.94" y="177.58" width="6.76" height="7.03" fill="#9277c2"/>
<rect x="72.65" y="177.58" width="6.76" height="7.03" fill="#eee6f3"/>
<rect x="79.36" y="177.58" width="6.76" height="7.03" fill="#f8eaed"/>
<rect x="86.07" y="177.58" width="6.76" height="7.03" fill="#e5dbee"/>
<rect x="92.78" y="177.58" width="6.76" height="7.03" fill="#e5dbee"/>
<rect x="99.49" y="177.58" width="6.76" height="7.03" fill="#f8f2f8"/>
<rect x="106.20" y="177.58" width="6.76" height="7.03" fill="#f1977a"/>
<rect x="112.91" y="177.58" width="6.76" height="7.03" fill="#f1977a"/>
<rect x="119.62" y="177.58" width="6.76" height="7.03" fill="#f08b6f"/>
<rect x="126.33" y="177.58" width="6.76" height="7.03" fill="#f08b6f"/>
<rect x="133.04" y="177.58" width="6.76" height="7.03" fill="#e43b1e"/>
<text x="141.4" y="183.24" font-size="7.6" text-anchor="start" fill="#222">SLC2A1</text>
<rect x="39.10" y="184.56" width="6.76" height="7.03" fill="#b5a1d5"/>
<rect x="45.81" y="184.56" width="6.76" height="7.03" fill="#b5a1d5"/>
<rect x="52.52" y="184.56" width="6.76" height="7.03" fill="#b5a1d5"/>
<rect x="59.23" y="184.56" width="6.76" height="7.03" fill="#b5a1d5"/>
<rect x="65.94" y="184.56" width="6.76" height="7.03" fill="#b5a1d5"/>
<rect x="72.65" y="184.56" width="6.76" height="7.03" fill="#beacda"/>
<rect x="79.36" y="184.56" width="6.76" height="7.03" fill="#beacda"/>
<rect x="86.07" y="184.56" width="6.76" height="7.03" fill="#beacda"/>
<rect x="92.78" y="184.56" width="6.76" height="7.03" fill="#beacda"/>
<rect x="99.49" y="184.56" width="6.76" height="7.03" fill="#c8b8df"/>
<rect x="106.20" y="184.56" width="6.76" height="7.03" fill="#f1977a"/>
<rect x="112.91" y="184.56" width="6.76" height="7.03" fill="#f08b6f"/>
<rect x="119.62" y="184.56" width="6.76" height="7.03" fill="#f1977a"/>
<rect x="126.33" y="184.56" width="6.76" height="7.03" fill="#ec7458"/>
<rect x="133.04" y="184.56" width="6.76" height="7.03" fill="#e43b1e"/>
<text x="141.4" y="190.48" font-size="7.6" text-anchor="start" fill="#222">VEGFA</text>
<rect x="39.10" y="191.54" width="6.76" height="7.03" fill="#beacda"/>
<rect x="45.81" y="191.54" width="6.76" height="7.03" fill="#beacda"/>
<rect x="52.52" y="191.54" width="6.76" height="7.03" fill="#beacda"/>
<rect x="59.23" y="191.54" width="6.76" height="7.03" fill="#beacda"/>
<rect x="65.94" y="191.54" width="6.76" height="7.03" fill="#beacda"/>
<rect x="72.65" y="191.54" width="6.76" height="7.03" fill="#beacda"/>
<rect x="79.36" y="191.54" width="6.76" height="7.03" fill="#beacda"/>
<rect x="86.07" y="191.54" width="6.76" height="7.03" fill="#c8b8df"/>
<rect x="92.78" y="191.54" width="6.76" height="7.03" fill="#c8b8df"/>
<rect x="99.49" y="191.54" width="6.76" height="7.03" fill="#c8b8df"/>
<rect x="106.20" y="191.54" width="6.76" height="7.03" fill="#f5c2b4"/>
<rect x="112.91" y="191.54" width="6.76" height="7.03" fill="#f4baa8"/>
<rect x="119.62" y="191.54" width="6.76" height="7.03" fill="#f4b29d"/>
<rect x="126.33" y="191.54" width="6.76" height="7.03" fill="#e75235"/>
<rect x="133.04" y="191.54" width="6.76" height="7.03" fill="#e43b1e"/>
<text x="141.4" y="197.72" font-size="7.6" text-anchor="start" fill="#222">ADM</text>
<rect x="39.10" y="198.52" width="6.76" height="7.03" fill="#beacda"/>
<rect x="45.81" y="198.52" width="6.76" height="7.03" fill="#ab95d0"/>
<rect x="52.52" y="198.52" width="6.76" height="7.03" fill="#b5a1d5"/>
<rect x="59.23" y="198.52" width="6.76" height="7.03" fill="#ab95d0"/>
<rect x="65.94" y="198.52" width="6.76" height="7.03" fill="#b5a1d5"/>
<rect x="72.65" y="198.52" width="6.76" height="7.03" fill="#f6d2ca"/>
<rect x="79.36" y="198.52" width="6.76" height="7.03" fill="#beacda"/>
<rect x="86.07" y="198.52" width="6.76" height="7.03" fill="#dbcfe9"/>
<rect x="92.78" y="198.52" width="6.76" height="7.03" fill="#c8b8df"/>
<rect x="99.49" y="198.52" width="6.76" height="7.03" fill="#beacda"/>
<rect x="106.20" y="198.52" width="6.76" height="7.03" fill="#f6d2ca"/>
<rect x="112.91" y="198.52" width="6.76" height="7.03" fill="#f5c2b4"/>
<rect x="119.62" y="198.52" width="6.76" height="7.03" fill="#e23012"/>
<rect x="126.33" y="198.52" width="6.76" height="7.03" fill="#e43b1e"/>
<rect x="133.04" y="198.52" width="6.76" height="7.03" fill="#f7e2e1"/>
<text x="141.4" y="204.96" font-size="7.6" text-anchor="start" fill="#222">IL6</text>
<rect x="39.10" y="205.50" width="6.76" height="7.03" fill="#f08b6f"/>
<rect x="45.81" y="205.50" width="6.76" height="7.03" fill="#ee8063"/>
<rect x="52.52" y="205.50" width="6.76" height="7.03" fill="#e95e40"/>
<rect x="59.23" y="205.50" width="6.76" height="7.03" fill="#f08b6f"/>
<rect x="65.94" y="205.50" width="6.76" height="7.03" fill="#e95e40"/>
<rect x="72.65" y="205.50" width="6.76" height="7.03" fill="#6d4ca7"/>
<rect x="79.36" y="205.50" width="6.76" height="7.03" fill="#c8b8df"/>
<rect x="86.07" y="205.50" width="6.76" height="7.03" fill="#f8f2f8"/>
<rect x="92.78" y="205.50" width="6.76" height="7.03" fill="#8568b9"/>
<rect x="99.49" y="205.50" width="6.76" height="7.03" fill="#c8b8df"/>
<rect x="106.20" y="205.50" width="6.76" height="7.03" fill="#ab95d0"/>
<rect x="112.91" y="205.50" width="6.76" height="7.03" fill="#f4aa91"/>
<rect x="119.62" y="205.50" width="6.76" height="7.03" fill="#b5a1d5"/>
<rect x="126.33" y="205.50" width="6.76" height="7.03" fill="#c8b8df"/>
<rect x="133.04" y="205.50" width="6.76" height="7.03" fill="#f8f2f8"/>
<text x="141.4" y="212.2" font-size="7.6" text-anchor="start" fill="#222">CITED2</text>
<rect x="39.10" y="212.48" width="6.76" height="7.03" fill="#f7e2e1"/>
<rect x="45.81" y="212.48" width="6.76" height="7.03" fill="#f5c2b4"/>
<rect x="52.52" y="212.48" width="6.76" height="7.03" fill="#f4baa8"/>
<rect x="59.23" y="212.48" width="6.76" height="7.03" fill="#f4baa8"/>
<rect x="65.94" y="212.48" width="6.76" height="7.03" fill="#f4b29d"/>
<rect x="72.65" y="212.48" width="6.76" height="7.03" fill="#795ab0"/>
<rect x="79.36" y="212.48" width="6.76" height="7.03" fill="#8568b9"/>
<rect x="86.07" y="212.48" width="6.76" height="7.03" fill="#987ec6"/>
<rect x="92.78" y="212.48" width="6.76" height="7.03" fill="#7f61b4"/>
<rect x="99.49" y="212.48" width="6.76" height="7.03" fill="#ab95d0"/>
<rect x="106.20" y="212.48" width="6.76" height="7.03" fill="#f8f2f8"/>
<rect x="112.91" y="212.48" width="6.76" height="7.03" fill="#f8eaed"/>
<rect x="119.62" y="212.48" width="6.76" height="7.03" fill="#f6d2ca"/>
<rect x="126.33" y="212.48" width="6.76" height="7.03" fill="#f6cabf"/>
<rect x="133.04" y="212.48" width="6.76" height="7.03" fill="#e43b1e"/>
<text x="141.4" y="219.44" font-size="7.6" text-anchor="start" fill="#222">NDRG1</text>
<rect x="39.10" y="219.46" width="6.76" height="7.03" fill="#f8f2f8"/>
<rect x="45.81" y="219.46" width="6.76" height="7.03" fill="#f8f2f8"/>
<rect x="52.52" y="219.46" width="6.76" height="7.03" fill="#f08b6f"/>
<rect x="59.23" y="219.46" width="6.76" height="7.03" fill="#eee6f3"/>
<rect x="65.94" y="219.46" width="6.76" height="7.03" fill="#f8f2f8"/>
<rect x="72.65" y="219.46" width="6.76" height="7.03" fill="#b5a1d5"/>
<rect x="79.36" y="219.46" width="6.76" height="7.03" fill="#b5a1d5"/>
<rect x="86.07" y="219.46" width="6.76" height="7.03" fill="#ab95d0"/>
<rect x="92.78" y="219.46" width="6.76" height="7.03" fill="#ab95d0"/>
<rect x="99.49" y="219.46" width="6.76" height="7.03" fill="#b5a1d5"/>
<rect x="106.20" y="219.46" width="6.76" height="7.03" fill="#beacda"/>
<rect x="112.91" y="219.46" width="6.76" height="7.03" fill="#f08b6f"/>
<rect x="119.62" y="219.46" width="6.76" height="7.03" fill="#d2c4e4"/>
<rect x="126.33" y="219.46" width="6.76" height="7.03" fill="#f6cabf"/>
<rect x="133.04" y="219.46" width="6.76" height="7.03" fill="#e43b1e"/>
<text x="141.4" y="226.68" font-size="7.6" text-anchor="start" fill="#222">MMP9</text>
<line x1="39.1" y1="177.57999999999998" x2="139.75" y2="177.57999999999998" stroke="#fff" stroke-width="0.45" stroke-opacity="0.5"/>
<line x1="39.1" y1="184.56" x2="139.75" y2="184.56" stroke="#fff" stroke-width="0.45" stroke-opacity="0.5"/>
<line x1="39.1" y1="191.54" x2="139.75" y2="191.54" stroke="#fff" stroke-width="0.45" stroke-opacity="0.5"/>
<line x1="39.1" y1="198.51999999999998" x2="139.75" y2="198.51999999999998" stroke="#fff" stroke-width="0.45" stroke-opacity="0.5"/>
<line x1="39.1" y1="205.5" x2="139.75" y2="205.5" stroke="#fff" stroke-width="0.45" stroke-opacity="0.5"/>
<line x1="39.1" y1="212.48" x2="139.75" y2="212.48" stroke="#fff" stroke-width="0.45" stroke-opacity="0.5"/>
<line x1="39.1" y1="219.45999999999998" x2="139.75" y2="219.45999999999998" stroke="#fff" stroke-width="0.45" stroke-opacity="0.5"/>
<line x1="45.81" y1="170.6" x2="45.81" y2="226.44" stroke="#fff" stroke-width="0.45" stroke-opacity="0.5"/>
<line x1="52.52" y1="170.6" x2="52.52" y2="226.44" stroke="#fff" stroke-width="0.45" stroke-opacity="0.5"/>
<line x1="59.230000000000004" y1="170.6" x2="59.230000000000004" y2="226.44" stroke="#fff" stroke-width="0.45" stroke-opacity="0.5"/>
<line x1="65.94" y1="170.6" x2="65.94" y2="226.44" stroke="#fff" stroke-width="0.45" stroke-opacity="0.5"/>
<line x1="72.65" y1="170.6" x2="72.65" y2="226.44" stroke="#fff" stroke-width="0.45" stroke-opacity="0.5"/>
<line x1="79.36" y1="170.6" x2="79.36" y2="226.44" stroke="#fff" stroke-width="0.45" stroke-opacity="0.5"/>
<line x1="86.07" y1="170.6" x2="86.07" y2="226.44" stroke="#fff" stroke-width="0.45" stroke-opacity="0.5"/>
<line x1="92.78" y1="170.6" x2="92.78" y2="226.44" stroke="#fff" stroke-width="0.45" stroke-opacity="0.5"/>
<line x1="99.49000000000001" y1="170.6" x2="99.49000000000001" y2="226.44" stroke="#fff" stroke-width="0.45" stroke-opacity="0.5"/>
<line x1="106.19999999999999" y1="170.6" x2="106.19999999999999" y2="226.44" stroke="#fff" stroke-width="0.45" stroke-opacity="0.5"/>
<line x1="112.91" y1="170.6" x2="112.91" y2="226.44" stroke="#fff" stroke-width="0.45" stroke-opacity="0.5"/>
<line x1="119.62" y1="170.6" x2="119.62" y2="226.44" stroke="#fff" stroke-width="0.45" stroke-opacity="0.5"/>
<line x1="126.33000000000001" y1="170.6" x2="126.33000000000001" y2="226.44" stroke="#fff" stroke-width="0.45" stroke-opacity="0.5"/>
<line x1="133.04" y1="170.6" x2="133.04" y2="226.44" stroke="#fff" stroke-width="0.45" stroke-opacity="0.5"/>
<line x1="38.8" y1="188.05" x2="37.879999999999995" y2="188.05" stroke="#6a6a6a" stroke-width="0.6"/>
<line x1="38.8" y1="195.03" x2="37.879999999999995" y2="195.03" stroke="#6a6a6a" stroke-width="0.6"/>
<line x1="37.879999999999995" y1="188.05" x2="37.879999999999995" y2="195.03" stroke="#6a6a6a" stroke-width="0.6"/>
<line x1="38.8" y1="181.07" x2="36.959999999999994" y2="181.07" stroke="#6a6a6a" stroke-width="0.6"/>
<line x1="37.879999999999995" y1="191.54000000000002" x2="36.959999999999994" y2="191.54000000000002" stroke="#6a6a6a" stroke-width="0.6"/>
<line x1="36.959999999999994" y1="181.07" x2="36.959999999999994" y2="191.54000000000002" stroke="#6a6a6a" stroke-width="0.6"/>
<line x1="38.8" y1="174.09" x2="35.58" y2="174.09" stroke="#6a6a6a" stroke-width="0.6"/>
<line x1="36.959999999999994" y1="186.305" x2="35.58" y2="186.305" stroke="#6a6a6a" stroke-width="0.6"/>
<line x1="35.58" y1="174.09" x2="35.58" y2="186.305" stroke="#6a6a6a" stroke-width="0.6"/>
<line x1="35.58" y1="180.1975" x2="34.66" y2="180.1975" stroke="#6a6a6a" stroke-width="0.6"/>
<line x1="38.8" y1="202.01" x2="34.66" y2="202.01" stroke="#6a6a6a" stroke-width="0.6"/>
<line x1="34.66" y1="180.1975" x2="34.66" y2="202.01" stroke="#6a6a6a" stroke-width="0.6"/>
<line x1="38.8" y1="215.97" x2="37.419999999999995" y2="215.97" stroke="#6a6a6a" stroke-width="0.6"/>
<line x1="38.8" y1="222.95" x2="37.419999999999995" y2="222.95" stroke="#6a6a6a" stroke-width="0.6"/>
<line x1="37.419999999999995" y1="215.97" x2="37.419999999999995" y2="222.95" stroke="#6a6a6a" stroke-width="0.6"/>
<line x1="38.8" y1="208.99" x2="36.04" y2="208.99" stroke="#6a6a6a" stroke-width="0.6"/>
<line x1="37.419999999999995" y1="219.45999999999998" x2="36.04" y2="219.45999999999998" stroke="#6a6a6a" stroke-width="0.6"/>
<line x1="36.04" y1="208.99" x2="36.04" y2="219.45999999999998" stroke="#6a6a6a" stroke-width="0.6"/>
<line x1="34.66" y1="191.10375" x2="29.599999999999998" y2="191.10375" stroke="#6a6a6a" stroke-width="0.6"/>
<line x1="36.04" y1="214.225" x2="29.599999999999998" y2="214.225" stroke="#6a6a6a" stroke-width="0.6"/>
<line x1="29.599999999999998" y1="191.10375" x2="29.599999999999998" y2="214.225" stroke="#6a6a6a" stroke-width="0.6"/>
<rect x="19.20" y="230.50" width="7.60" height="45.12" fill="#3aaa3a"/>
<text x="25.9" y="252.2" font-size="8.2" text-anchor="middle" fill="#1a5a1a" transform="rotate(-90 25.9 252.2)">HIF-2</text>
<rect x="39.10" y="230.50" width="6.76" height="7.57" fill="#ab95d0"/>
<rect x="45.81" y="230.50" width="6.76" height="7.57" fill="#c8b8df"/>
<rect x="52.52" y="230.50" width="6.76" height="7.57" fill="#f7e2e1"/>
<rect x="59.23" y="230.50" width="6.76" height="7.57" fill="#d2c4e4"/>
<rect x="65.94" y="230.50" width="6.76" height="7.57" fill="#f6d2ca"/>
<rect x="72.65" y="230.50" width="6.76" height="7.57" fill="#ab95d0"/>
<rect x="79.36" y="230.50" width="6.76" height="7.57" fill="#ab95d0"/>
<rect x="86.07" y="230.50" width="6.76" height="7.57" fill="#a28acb"/>
<rect x="92.78" y="230.50" width="6.76" height="7.57" fill="#987ec6"/>
<rect x="99.49" y="230.50" width="6.76" height="7.57" fill="#b5a1d5"/>
<rect x="106.20" y="230.50" width="6.76" height="7.57" fill="#f4aa91"/>
<rect x="112.91" y="230.50" width="6.76" height="7.57" fill="#f4baa8"/>
<rect x="119.62" y="230.50" width="6.76" height="7.57" fill="#f6d2ca"/>
<rect x="126.33" y="230.50" width="6.76" height="7.57" fill="#f5c2b4"/>
<rect x="133.04" y="230.50" width="6.76" height="7.57" fill="#e43b1e"/>
<text x="141.4" y="236.6" font-size="7.6" text-anchor="start" fill="#222">CCND1</text>
<rect x="39.10" y="238.02" width="6.76" height="7.57" fill="#ee8063"/>
<rect x="45.81" y="238.02" width="6.76" height="7.57" fill="#e54729"/>
<rect x="52.52" y="238.02" width="6.76" height="7.57" fill="#f6dad6"/>
<rect x="59.23" y="238.02" width="6.76" height="7.57" fill="#e54729"/>
<rect x="65.94" y="238.02" width="6.76" height="7.57" fill="#eee6f3"/>
<rect x="72.65" y="238.02" width="6.76" height="7.57" fill="#ab95d0"/>
<rect x="79.36" y="238.02" width="6.76" height="7.57" fill="#a28acb"/>
<rect x="86.07" y="238.02" width="6.76" height="7.57" fill="#987ec6"/>
<rect x="92.78" y="238.02" width="6.76" height="7.57" fill="#987ec6"/>
<rect x="99.49" y="238.02" width="6.76" height="7.57" fill="#987ec6"/>
<rect x="106.20" y="238.02" width="6.76" height="7.57" fill="#f8f2f8"/>
<rect x="112.91" y="238.02" width="6.76" height="7.57" fill="#f8f2f8"/>
<rect x="119.62" y="238.02" width="6.76" height="7.57" fill="#beacda"/>
<rect x="126.33" y="238.02" width="6.76" height="7.57" fill="#f8f2f8"/>
<rect x="133.04" y="238.02" width="6.76" height="7.57" fill="#f6dad6"/>
<text x="141.4" y="244.22" font-size="7.6" text-anchor="start" fill="#222">TGFA</text>
<rect x="39.10" y="245.54" width="6.76" height="7.57" fill="#e95e40"/>
<rect x="45.81" y="245.54" width="6.76" height="7.57" fill="#f4b29d"/>
<rect x="52.52" y="245.54" width="6.76" height="7.57" fill="#e95e40"/>
<rect x="59.23" y="245.54" width="6.76" height="7.57" fill="#eee6f3"/>
<rect x="65.94" y="245.54" width="6.76" height="7.57" fill="#ee8063"/>
<rect x="72.65" y="245.54" width="6.76" height="7.57" fill="#dbcfe9"/>
<rect x="79.36" y="245.54" width="6.76" height="7.57" fill="#6d4ca7"/>
<rect x="86.07" y="245.54" width="6.76" height="7.57" fill="#8c70bd"/>
<rect x="92.78" y="245.54" width="6.76" height="7.57" fill="#7f61b4"/>
<rect x="99.49" y="245.54" width="6.76" height="7.57" fill="#e5dbee"/>
<rect x="106.20" y="245.54" width="6.76" height="7.57" fill="#f8f2f8"/>
<rect x="112.91" y="245.54" width="6.76" height="7.57" fill="#f6d2ca"/>
<rect x="119.62" y="245.54" width="6.76" height="7.57" fill="#f8f2f8"/>
<rect x="126.33" y="245.54" width="6.76" height="7.57" fill="#a28acb"/>
<rect x="133.04" y="245.54" width="6.76" height="7.57" fill="#f6d2ca"/>
<text x="141.4" y="251.84" font-size="7.6" text-anchor="start" fill="#222">ABL2</text>
<rect x="39.10" y="253.06" width="6.76" height="7.57" fill="#ec7458"/>
<rect x="45.81" y="253.06" width="6.76" height="7.57" fill="#f8f2f8"/>
<rect x="52.52" y="253.06" width="6.76" height="7.57" fill="#f8f2f8"/>
<rect x="59.23" y="253.06" width="6.76" height="7.57" fill="#f5c2b4"/>
<rect x="65.94" y="253.06" width="6.76" height="7.57" fill="#f8f2f8"/>
<rect x="72.65" y="253.06" width="6.76" height="7.57" fill="#dbcfe9"/>
<rect x="79.36" y="253.06" width="6.76" height="7.57" fill="#8c70bd"/>
<rect x="86.07" y="253.06" width="6.76" height="7.57" fill="#ec7458"/>
<rect x="92.78" y="253.06" width="6.76" height="7.57" fill="#9277c2"/>
<rect x="99.49" y="253.06" width="6.76" height="7.57" fill="#f6dad6"/>
<rect x="106.20" y="253.06" width="6.76" height="7.57" fill="#e54729"/>
<rect x="112.91" y="253.06" width="6.76" height="7.57" fill="#f8f2f8"/>
<rect x="119.62" y="253.06" width="6.76" height="7.57" fill="#8c70bd"/>
<rect x="126.33" y="253.06" width="6.76" height="7.57" fill="#8568b9"/>
<rect x="133.04" y="253.06" width="6.76" height="7.57" fill="#f6dad6"/>
<text x="141.4" y="259.46" font-size="7.6" text-anchor="start" fill="#222">ADORA2A</text>
<rect x="39.10" y="260.58" width="6.76" height="7.57" fill="#ec7458"/>
<rect x="45.81" y="260.58" width="6.76" height="7.57" fill="#d2c4e4"/>
<rect x="52.52" y="260.58" width="6.76" height="7.57" fill="#f08b6f"/>
<rect x="59.23" y="260.58" width="6.76" height="7.57" fill="#f8f2f8"/>
<rect x="65.94" y="260.58" width="6.76" height="7.57" fill="#e43b1e"/>
<rect x="72.65" y="260.58" width="6.76" height="7.57" fill="#dbcfe9"/>
<rect x="79.36" y="260.58" width="6.76" height="7.57" fill="#e5dbee"/>
<rect x="86.07" y="260.58" width="6.76" height="7.57" fill="#e75235"/>
<rect x="92.78" y="260.58" width="6.76" height="7.57" fill="#a28acb"/>
<rect x="99.49" y="260.58" width="6.76" height="7.57" fill="#d2c4e4"/>
<rect x="106.20" y="260.58" width="6.76" height="7.57" fill="#f8f2f8"/>
<rect x="112.91" y="260.58" width="6.76" height="7.57" fill="#dbcfe9"/>
<rect x="119.62" y="260.58" width="6.76" height="7.57" fill="#987ec6"/>
<rect x="126.33" y="260.58" width="6.76" height="7.57" fill="#987ec6"/>
<rect x="133.04" y="260.58" width="6.76" height="7.57" fill="#f8eaed"/>
<text x="141.4" y="267.08" font-size="7.6" text-anchor="start" fill="#222">POU5F1</text>
<rect x="39.10" y="268.10" width="6.76" height="7.57" fill="#b5a1d5"/>
<rect x="45.81" y="268.10" width="6.76" height="7.57" fill="#b5a1d5"/>
<rect x="52.52" y="268.10" width="6.76" height="7.57" fill="#b5a1d5"/>
<rect x="59.23" y="268.10" width="6.76" height="7.57" fill="#beacda"/>
<rect x="65.94" y="268.10" width="6.76" height="7.57" fill="#beacda"/>
<rect x="72.65" y="268.10" width="6.76" height="7.57" fill="#dbcfe9"/>
<rect x="79.36" y="268.10" width="6.76" height="7.57" fill="#e95e40"/>
<rect x="86.07" y="268.10" width="6.76" height="7.57" fill="#e95e40"/>
<rect x="92.78" y="268.10" width="6.76" height="7.57" fill="#e5dbee"/>
<rect x="99.49" y="268.10" width="6.76" height="7.57" fill="#e43b1e"/>
<rect x="106.20" y="268.10" width="6.76" height="7.57" fill="#dbcfe9"/>
<rect x="112.91" y="268.10" width="6.76" height="7.57" fill="#eee6f3"/>
<rect x="119.62" y="268.10" width="6.76" height="7.57" fill="#f8f2f8"/>
<rect x="126.33" y="268.10" width="6.76" height="7.57" fill="#dbcfe9"/>
<rect x="133.04" y="268.10" width="6.76" height="7.57" fill="#f6cabf"/>
<text x="141.4" y="274.7" font-size="7.6" text-anchor="start" fill="#222">EPAS1</text>
<line x1="39.1" y1="238.02" x2="139.75" y2="238.02" stroke="#fff" stroke-width="0.45" stroke-opacity="0.5"/>
<line x1="39.1" y1="245.54" x2="139.75" y2="245.54" stroke="#fff" stroke-width="0.45" stroke-opacity="0.5"/>
<line x1="39.1" y1="253.06" x2="139.75" y2="253.06" stroke="#fff" stroke-width="0.45" stroke-opacity="0.5"/>
<line x1="39.1" y1="260.58" x2="139.75" y2="260.58" stroke="#fff" stroke-width="0.45" stroke-opacity="0.5"/>
<line x1="39.1" y1="268.1" x2="139.75" y2="268.1" stroke="#fff" stroke-width="0.45" stroke-opacity="0.5"/>
<line x1="45.81" y1="230.5" x2="45.81" y2="275.62" stroke="#fff" stroke-width="0.45" stroke-opacity="0.5"/>
<line x1="52.52" y1="230.5" x2="52.52" y2="275.62" stroke="#fff" stroke-width="0.45" stroke-opacity="0.5"/>
<line x1="59.230000000000004" y1="230.5" x2="59.230000000000004" y2="275.62" stroke="#fff" stroke-width="0.45" stroke-opacity="0.5"/>
<line x1="65.94" y1="230.5" x2="65.94" y2="275.62" stroke="#fff" stroke-width="0.45" stroke-opacity="0.5"/>
<line x1="72.65" y1="230.5" x2="72.65" y2="275.62" stroke="#fff" stroke-width="0.45" stroke-opacity="0.5"/>
<line x1="79.36" y1="230.5" x2="79.36" y2="275.62" stroke="#fff" stroke-width="0.45" stroke-opacity="0.5"/>
<line x1="86.07" y1="230.5" x2="86.07" y2="275.62" stroke="#fff" stroke-width="0.45" stroke-opacity="0.5"/>
<line x1="92.78" y1="230.5" x2="92.78" y2="275.62" stroke="#fff" stroke-width="0.45" stroke-opacity="0.5"/>
<line x1="99.49000000000001" y1="230.5" x2="99.49000000000001" y2="275.62" stroke="#fff" stroke-width="0.45" stroke-opacity="0.5"/>
<line x1="106.19999999999999" y1="230.5" x2="106.19999999999999" y2="275.62" stroke="#fff" stroke-width="0.45" stroke-opacity="0.5"/>
<line x1="112.91" y1="230.5" x2="112.91" y2="275.62" stroke="#fff" stroke-width="0.45" stroke-opacity="0.5"/>
<line x1="119.62" y1="230.5" x2="119.62" y2="275.62" stroke="#fff" stroke-width="0.45" stroke-opacity="0.5"/>
<line x1="126.33000000000001" y1="230.5" x2="126.33000000000001" y2="275.62" stroke="#fff" stroke-width="0.45" stroke-opacity="0.5"/>
<line x1="133.04" y1="230.5" x2="133.04" y2="275.62" stroke="#fff" stroke-width="0.45" stroke-opacity="0.5"/>
<line x1="38.8" y1="241.78" x2="36.959999999999994" y2="241.78" stroke="#6a6a6a" stroke-width="0.6"/>
<line x1="38.8" y1="249.29999999999998" x2="36.959999999999994" y2="249.29999999999998" stroke="#6a6a6a" stroke-width="0.6"/>
<line x1="36.959999999999994" y1="241.78" x2="36.959999999999994" y2="249.29999999999998" stroke="#6a6a6a" stroke-width="0.6"/>
<line x1="38.8" y1="234.26" x2="34.66" y2="234.26" stroke="#6a6a6a" stroke-width="0.6"/>
<line x1="36.959999999999994" y1="245.54" x2="34.66" y2="245.54" stroke="#6a6a6a" stroke-width="0.6"/>
<line x1="34.66" y1="234.26" x2="34.66" y2="245.54" stroke="#6a6a6a" stroke-width="0.6"/>
<line x1="38.8" y1="256.82" x2="36.959999999999994" y2="256.82" stroke="#6a6a6a" stroke-width="0.6"/>
<line x1="38.8" y1="264.34" x2="36.959999999999994" y2="264.34" stroke="#6a6a6a" stroke-width="0.6"/>
<line x1="36.959999999999994" y1="256.82" x2="36.959999999999994" y2="264.34" stroke="#6a6a6a" stroke-width="0.6"/>
<line x1="34.66" y1="239.89999999999998" x2="31.9" y2="239.89999999999998" stroke="#6a6a6a" stroke-width="0.6"/>
<line x1="36.959999999999994" y1="260.58" x2="31.9" y2="260.58" stroke="#6a6a6a" stroke-width="0.6"/>
<line x1="31.9" y1="239.89999999999998" x2="31.9" y2="260.58" stroke="#6a6a6a" stroke-width="0.6"/>
<line x1="31.9" y1="250.23999999999998" x2="29.599999999999998" y2="250.23999999999998" stroke="#6a6a6a" stroke-width="0.6"/>
<line x1="38.8" y1="271.86" x2="29.599999999999998" y2="271.86" stroke="#6a6a6a" stroke-width="0.6"/>
<line x1="29.599999999999998" y1="250.23999999999998" x2="29.599999999999998" y2="271.86" stroke="#6a6a6a" stroke-width="0.6"/>
<text x="171" y="38.7" font-size="7.5" text-anchor="start" fill="#222">Z-score</text>
<defs><linearGradient id="zg" x1="0" y1="0" x2="0" y2="1"><stop offset="0" stop-color="#e02a10"/><stop offset="0.28" stop-color="#f2a080"/><stop offset="0.45" stop-color="#fdf2ee"/><stop offset="0.55" stop-color="#f6f2fa"/><stop offset="0.75" stop-color="#9a80c8"/><stop offset="1" stop-color="#28107a"/></linearGradient></defs>
<rect x="171.30" y="42.00" width="6.70" height="34.00" fill="url(#zg)"/>
<text x="179" y="46.1" font-size="7.4" text-anchor="start" fill="#222">2</text>
<text x="179" y="54.6" font-size="7.4" text-anchor="start" fill="#222">1</text>
<text x="179" y="62.4" font-size="7.4" text-anchor="start" fill="#222">0</text>
<text x="179" y="69.89999999999999" font-size="7.4" text-anchor="start" fill="#222">−1</text>
<text x="179" y="77.89999999999999" font-size="7.4" text-anchor="start" fill="#222">−2</text>
<text x="225.5" y="16.2" font-size="10.5" text-anchor="start" fill="#111" font-weight="bold">B</text>
<rect x="248.50" y="14.60" width="13.00" height="5.40" fill="#8a9197"/>
<text x="263.8" y="20.1" font-size="7.6" text-anchor="start" fill="#2a2a2a">PBMC</text>
<rect x="248.50" y="24.60" width="13.00" height="5.40" fill="#9a72a8"/>
<text x="263.8" y="30.1" font-size="7.6" text-anchor="start" fill="#2a2a2a">PBMC + PGA-1</text>
<rect x="322.50" y="14.60" width="13.00" height="5.40" fill="#f4a85a"/>
<text x="337.8" y="20.1" font-size="7.6" text-anchor="start" fill="#2a2a2a">PBMC + CII</text>
<rect x="322.50" y="24.60" width="13.00" height="5.40" fill="#e4566e"/>
<text x="337.8" y="30.1" font-size="7.6" text-anchor="start" fill="#2a2a2a">PBMC + Mec-1</text>
<rect x="322.50" y="34.60" width="13.00" height="5.40" fill="#6c84b4"/>
<text x="337.8" y="40.1" font-size="7.6" text-anchor="start" fill="#2a2a2a">PBMC + LME-1</text>
<rect x="394.50" y="14.60" width="13.00" height="5.40" fill="#90c8ea"/>
<text x="409.8" y="20.1" font-size="7.6" text-anchor="start" fill="#2a2a2a">PBMC + U-266</text>
<rect x="394.50" y="24.60" width="13.00" height="5.40" fill="#5c9a7c"/>
<text x="409.8" y="30.1" font-size="7.6" text-anchor="start" fill="#2a2a2a">PBMC + RPMI-8226</text>
<rect x="394.50" y="34.60" width="13.00" height="5.40" fill="#80c274"/>
<text x="409.8" y="40.1" font-size="7.6" text-anchor="start" fill="#2a2a2a">PBMC + Nalm-6</text>
<line x1="262.5" y1="52.2" x2="262.5" y2="132.6" stroke="#222" stroke-width="0.9"/>
<line x1="259.5" y1="54.599999999999994" x2="262.5" y2="54.599999999999994" stroke="#222" stroke-width="0.9"/>
<text x="257.1" y="57.39999999999999" font-size="7.8" text-anchor="end" fill="#222">2000</text>
<line x1="259.5" y1="74.1" x2="262.5" y2="74.1" stroke="#222" stroke-width="0.9"/>
<text x="257.1" y="76.89999999999999" font-size="7.8" text-anchor="end" fill="#222">1500</text>
<line x1="259.5" y1="93.6" x2="262.5" y2="93.6" stroke="#222" stroke-width="0.9"/>
<text x="257.1" y="96.39999999999999" font-size="7.8" text-anchor="end" fill="#222">1000</text>
<line x1="259.5" y1="113.1" x2="262.5" y2="113.1" stroke="#222" stroke-width="0.9"/>
<text x="257.1" y="115.89999999999999" font-size="7.8" text-anchor="end" fill="#222">500</text>
<line x1="259.5" y1="132.6" x2="262.5" y2="132.6" stroke="#222" stroke-width="0.9"/>
<text x="257.1" y="135.4" font-size="7.8" text-anchor="end" fill="#222">0</text>
<line x1="262.5" y1="132.6" x2="315.5" y2="132.6" stroke="#222" stroke-width="0.9"/>
<text x="233.3" y="92.8" font-size="7.2" text-anchor="middle" fill="#222" transform="rotate(-90 233.3 92.8)" textLength="38" lengthAdjust="spacingAndGlyphs" stroke="#222" stroke-width="0.2">gMFI HIF-1α</text>
<rect x="265.60" y="117.19" width="9.30" height="15.41" fill="#e1e4e7"/>
<rect x="276.00" y="109.20" width="9.00" height="23.40" fill="#e8dbec"/>
<rect x="292.80" y="99.06" width="8.20" height="33.54" fill="#8c959c"/>
<rect x="303.10" y="80.34" width="8.20" height="52.26" fill="#9b6aa5"/>
<line x1="270.2" y1="117.195" x2="270.2" y2="114.27" stroke="#555" stroke-width="0.7"/>
<line x1="269.2" y1="114.27" x2="271.2" y2="114.27" stroke="#555" stroke-width="0.7"/>
<line x1="280.5" y1="109.19999999999999" x2="280.5" y2="105.69" stroke="#555" stroke-width="0.7"/>
<line x1="279.5" y1="105.69" x2="281.5" y2="105.69" stroke="#555" stroke-width="0.7"/>
<line x1="296.9" y1="99.06" x2="296.9" y2="93.6" stroke="#222" stroke-width="0.7"/>
<line x1="295.9" y1="93.6" x2="297.9" y2="93.6" stroke="#222" stroke-width="0.7"/>
<line x1="307.2" y1="80.34" x2="307.2" y2="75.27" stroke="#222" stroke-width="0.7"/>
<line x1="306.2" y1="75.27" x2="308.2" y2="75.27" stroke="#222" stroke-width="0.7"/>
<circle cx="266.40" cy="112.80" r="1.35" fill="none" stroke="#666" stroke-width="0.7"/>
<circle cx="269.80" cy="115.10" r="1.35" fill="none" stroke="#666" stroke-width="0.7"/>
<circle cx="273.30" cy="111.40" r="1.35" fill="none" stroke="#666" stroke-width="0.7"/>
<circle cx="269.80" cy="118.60" r="1.35" fill="none" stroke="#666" stroke-width="0.7"/>
<circle cx="266.40" cy="120.90" r="1.35" fill="none" stroke="#666" stroke-width="0.7"/>
<circle cx="272.70" cy="120.30" r="1.35" fill="none" stroke="#666" stroke-width="0.7"/>
<circle cx="273.90" cy="114.00" r="1.35" fill="none" stroke="#666" stroke-width="0.7"/>
<circle cx="280.60" cy="103.50" r="1.35" fill="none" stroke="#8a5a9a" stroke-width="0.7"/>
<circle cx="277.40" cy="107.00" r="1.35" fill="none" stroke="#8a5a9a" stroke-width="0.7"/>
<circle cx="283.80" cy="106.40" r="1.35" fill="none" stroke="#8a5a9a" stroke-width="0.7"/>
<circle cx="280.60" cy="109.30" r="1.35" fill="none" stroke="#8a5a9a" stroke-width="0.7"/>
<circle cx="283.20" cy="110.50" r="1.35" fill="none" stroke="#8a5a9a" stroke-width="0.7"/>
<circle cx="280.60" cy="112.80" r="1.35" fill="none" stroke="#8a5a9a" stroke-width="0.7"/>
<circle cx="280.60" cy="116.50" r="1.35" fill="none" stroke="#8a5a9a" stroke-width="0.7"/>
<circle cx="294.80" cy="92.20" r="1.25" fill="#2a2f38" stroke="none" stroke-width="0.6"/>
<circle cx="298.60" cy="91.50" r="1.25" fill="#2a2f38" stroke="none" stroke-width="0.6"/>
<circle cx="300.40" cy="93.00" r="1.25" fill="#2a2f38" stroke="none" stroke-width="0.6"/>
<circle cx="297.50" cy="99.20" r="1.25" fill="#2a2f38" stroke="none" stroke-width="0.6"/>
<circle cx="297.50" cy="109.60" r="1.25" fill="#2a2f38" stroke="none" stroke-width="0.6"/>
<circle cx="297.50" cy="113.80" r="1.25" fill="#2a2f38" stroke="none" stroke-width="0.6"/>
<circle cx="307.70" cy="62.70" r="1.25" fill="#2a1a30" stroke="none" stroke-width="0.6"/>
<circle cx="304.60" cy="76.00" r="1.25" fill="#2a1a30" stroke="none" stroke-width="0.6"/>
<circle cx="307.70" cy="76.50" r="1.25" fill="#2a1a30" stroke="none" stroke-width="0.6"/>
<circle cx="310.70" cy="77.00" r="1.25" fill="#2a1a30" stroke="none" stroke-width="0.6"/>
<circle cx="310.50" cy="81.30" r="1.25" fill="#2a1a30" stroke="none" stroke-width="0.6"/>
<circle cx="307.70" cy="100.80" r="1.25" fill="#2a1a30" stroke="none" stroke-width="0.6"/>
<polyline points="269.6,96.8 269.6,93.0 281.5,93.0 281.5,96.8" fill="none" stroke="#222" stroke-width="0.9"/>
<circle cx="273.80" cy="89.10" r="1.2" fill="#222" stroke="none" stroke-width="0.6"/>
<circle cx="276.80" cy="89.10" r="1.2" fill="#222" stroke="none" stroke-width="0.6"/>
<polyline points="296.0,58.1 296.0,52.6 307.5,52.6 307.5,58.1" fill="none" stroke="#222" stroke-width="0.9"/>
<circle cx="300.80" cy="48.80" r="1.2" fill="#222" stroke="none" stroke-width="0.6"/>
<circle cx="303.80" cy="48.80" r="1.2" fill="#222" stroke="none" stroke-width="0.6"/>
<line x1="264.2" y1="135.5" x2="284.6" y2="135.5" stroke="#222" stroke-width="1.0"/>
<line x1="292.2" y1="135.5" x2="311.8" y2="135.5" stroke="#222" stroke-width="0.9"/>
<text x="279.0" y="143.8" font-size="7.9" text-anchor="end" fill="#222" transform="rotate(-45 279.0 143.8)">UNSTIM</text>
<text x="306.6" y="144.0" font-size="7.9" text-anchor="end" fill="#222" transform="rotate(-45 306.6 144.0)">αCD3/28</text>
<line x1="366.8" y1="60.0" x2="366.8" y2="130.5" stroke="#222" stroke-width="0.9"/>
<line x1="363.8" y1="62.69999999999999" x2="366.8" y2="62.69999999999999" stroke="#222" stroke-width="0.9"/>
<text x="361.40000000000003" y="65.49999999999999" font-size="7.8" text-anchor="end" fill="#222">1500</text>
<line x1="363.8" y1="85.3" x2="366.8" y2="85.3" stroke="#222" stroke-width="0.9"/>
<text x="361.40000000000003" y="88.1" font-size="7.8" text-anchor="end" fill="#222">1000</text>
<line x1="363.8" y1="107.9" x2="366.8" y2="107.9" stroke="#222" stroke-width="0.9"/>
<text x="361.40000000000003" y="110.7" font-size="7.8" text-anchor="end" fill="#222">500</text>
<line x1="363.8" y1="130.5" x2="366.8" y2="130.5" stroke="#222" stroke-width="0.9"/>
<text x="361.40000000000003" y="133.3" font-size="7.8" text-anchor="end" fill="#222">0</text>
<line x1="366.8" y1="130.5" x2="481.8" y2="130.5" stroke="#222" stroke-width="0.9"/>
<text x="337.2" y="89.5" font-size="7.2" text-anchor="middle" fill="#222" transform="rotate(-90 337.2 89.5)" textLength="38" lengthAdjust="spacingAndGlyphs" stroke="#222" stroke-width="0.2">gMFI HIF-1α</text>
<rect x="369.20" y="120.69" width="6.20" height="9.81" fill="#e6e9ee"/>
<line x1="370.5" y1="120.6916" x2="374.1" y2="120.6916" stroke="#2f3a4a" stroke-width="0.7"/>
<circle cx="370.50" cy="119.34" r="1.05" fill="#2f3a4a" stroke="none" stroke-width="0.6"/>
<circle cx="373.70" cy="120.24" r="1.05" fill="#2f3a4a" stroke="none" stroke-width="0.6"/>
<circle cx="370.50" cy="122.05" r="1.05" fill="#2f3a4a" stroke="none" stroke-width="0.6"/>
<circle cx="372.50" cy="118.21" r="1.05" fill="#2f3a4a" stroke="none" stroke-width="0.6"/>
<rect x="427.30" y="97.68" width="6.00" height="32.82" fill="#8a9299"/>
<line x1="430.3" y1="97.6848" x2="430.3" y2="93.6168" stroke="#333" stroke-width="0.6"/>
<line x1="429.5" y1="93.6168" x2="431.1" y2="93.6168" stroke="#333" stroke-width="0.6"/>
<circle cx="428.90" cy="98.59" r="0.9" fill="#2f3a4a" stroke="none" stroke-width="0.6"/>
<circle cx="430.30" cy="93.62" r="0.9" fill="#2f3a4a" stroke="none" stroke-width="0.6"/>
<circle cx="431.70" cy="97.46" r="0.9" fill="#2f3a4a" stroke="none" stroke-width="0.6"/>
<circle cx="430.30" cy="103.11" r="0.9" fill="#2f3a4a" stroke="none" stroke-width="0.6"/>
<rect x="376.90" y="114.45" width="6.20" height="16.05" fill="#fdebd4"/>
<line x1="378.2" y1="114.454" x2="381.8" y2="114.454" stroke="#b07030" stroke-width="0.7"/>
<circle cx="378.20" cy="113.10" r="1.05" fill="#b07030" stroke="none" stroke-width="0.6"/>
<circle cx="381.40" cy="114.00" r="1.05" fill="#b07030" stroke="none" stroke-width="0.6"/>
<circle cx="378.20" cy="115.81" r="1.05" fill="#b07030" stroke="none" stroke-width="0.6"/>
<circle cx="380.20" cy="111.97" r="1.05" fill="#b07030" stroke="none" stroke-width="0.6"/>
<rect x="435.00" y="90.41" width="6.00" height="40.09" fill="#f6a95c"/>
<line x1="438.0" y1="90.4076" x2="438.0" y2="86.33959999999999" stroke="#333" stroke-width="0.6"/>
<line x1="437.2" y1="86.33959999999999" x2="438.8" y2="86.33959999999999" stroke="#333" stroke-width="0.6"/>
<circle cx="436.60" cy="91.31" r="0.9" fill="#b07030" stroke="none" stroke-width="0.6"/>
<circle cx="438.00" cy="86.34" r="0.9" fill="#b07030" stroke="none" stroke-width="0.6"/>
<circle cx="439.40" cy="90.18" r="0.9" fill="#b07030" stroke="none" stroke-width="0.6"/>
<circle cx="438.00" cy="95.83" r="0.9" fill="#b07030" stroke="none" stroke-width="0.6"/>
<rect x="384.60" y="118.61" width="6.20" height="11.89" fill="#f8dae0"/>
<line x1="385.9" y1="118.6124" x2="389.5" y2="118.6124" stroke="#b01830" stroke-width="0.7"/>
<circle cx="385.90" cy="117.26" r="1.05" fill="#b01830" stroke="none" stroke-width="0.6"/>
<circle cx="389.10" cy="118.16" r="1.05" fill="#b01830" stroke="none" stroke-width="0.6"/>
<circle cx="385.90" cy="119.97" r="1.05" fill="#b01830" stroke="none" stroke-width="0.6"/>
<circle cx="387.90" cy="116.13" r="1.05" fill="#b01830" stroke="none" stroke-width="0.6"/>
<rect x="442.70" y="89.28" width="6.00" height="41.22" fill="#e1597a"/>
<line x1="445.7" y1="89.2776" x2="445.7" y2="85.2096" stroke="#333" stroke-width="0.6"/>
<line x1="444.9" y1="85.2096" x2="446.5" y2="85.2096" stroke="#333" stroke-width="0.6"/>
<circle cx="444.30" cy="90.18" r="0.9" fill="#b01830" stroke="none" stroke-width="0.6"/>
<circle cx="445.70" cy="85.21" r="0.9" fill="#b01830" stroke="none" stroke-width="0.6"/>
<circle cx="447.10" cy="89.05" r="0.9" fill="#b01830" stroke="none" stroke-width="0.6"/>
<circle cx="445.70" cy="94.70" r="0.9" fill="#b01830" stroke="none" stroke-width="0.6"/>
<rect x="392.30" y="120.69" width="6.20" height="9.81" fill="#dee3ee"/>
<line x1="393.6" y1="120.6916" x2="397.20000000000005" y2="120.6916" stroke="#1a2f5a" stroke-width="0.7"/>
<circle cx="393.60" cy="119.34" r="1.05" fill="#1a2f5a" stroke="none" stroke-width="0.6"/>
<circle cx="396.80" cy="120.24" r="1.05" fill="#1a2f5a" stroke="none" stroke-width="0.6"/>
<circle cx="393.60" cy="122.05" r="1.05" fill="#1a2f5a" stroke="none" stroke-width="0.6"/>
<circle cx="395.60" cy="118.21" r="1.05" fill="#1a2f5a" stroke="none" stroke-width="0.6"/>
<rect x="450.40" y="97.68" width="6.00" height="32.82" fill="#6d87b6"/>
<line x1="453.40000000000003" y1="97.6848" x2="453.40000000000003" y2="93.6168" stroke="#333" stroke-width="0.6"/>
<line x1="452.6" y1="93.6168" x2="454.20000000000005" y2="93.6168" stroke="#333" stroke-width="0.6"/>
<circle cx="452.00" cy="98.59" r="0.9" fill="#1a2f5a" stroke="none" stroke-width="0.6"/>
<circle cx="453.40" cy="93.62" r="0.9" fill="#1a2f5a" stroke="none" stroke-width="0.6"/>
<circle cx="454.80" cy="97.46" r="0.9" fill="#1a2f5a" stroke="none" stroke-width="0.6"/>
<circle cx="453.40" cy="103.11" r="0.9" fill="#1a2f5a" stroke="none" stroke-width="0.6"/>
<rect x="400.00" y="121.69" width="6.20" height="8.81" fill="#ddeef8"/>
<line x1="401.3" y1="121.686" x2="404.90000000000003" y2="121.686" stroke="#3a80b8" stroke-width="0.7"/>
<circle cx="401.30" cy="120.33" r="1.05" fill="#3a80b8" stroke="none" stroke-width="0.6"/>
<circle cx="404.50" cy="121.23" r="1.05" fill="#3a80b8" stroke="none" stroke-width="0.6"/>
<circle cx="401.30" cy="123.04" r="1.05" fill="#3a80b8" stroke="none" stroke-width="0.6"/>
<circle cx="403.30" cy="119.20" r="1.05" fill="#3a80b8" stroke="none" stroke-width="0.6"/>
<rect x="458.10" y="101.21" width="6.00" height="29.29" fill="#8ccaee"/>
<line x1="461.1" y1="101.21039999999999" x2="461.1" y2="97.1424" stroke="#333" stroke-width="0.6"/>
<line x1="460.3" y1="97.1424" x2="461.90000000000003" y2="97.1424" stroke="#333" stroke-width="0.6"/>
<circle cx="459.70" cy="102.11" r="0.9" fill="#3a80b8" stroke="none" stroke-width="0.6"/>
<circle cx="461.10" cy="97.14" r="0.9" fill="#3a80b8" stroke="none" stroke-width="0.6"/>
<circle cx="462.50" cy="100.98" r="0.9" fill="#3a80b8" stroke="none" stroke-width="0.6"/>
<circle cx="461.10" cy="106.63" r="0.9" fill="#3a80b8" stroke="none" stroke-width="0.6"/>
<rect x="407.70" y="120.69" width="6.20" height="9.81" fill="#dde9e2"/>
<line x1="409.0" y1="120.6916" x2="412.6" y2="120.6916" stroke="#1a5a38" stroke-width="0.7"/>
<circle cx="409.00" cy="119.34" r="1.05" fill="#1a5a38" stroke="none" stroke-width="0.6"/>
<circle cx="412.20" cy="120.24" r="1.05" fill="#1a5a38" stroke="none" stroke-width="0.6"/>
<circle cx="409.00" cy="122.05" r="1.05" fill="#1a5a38" stroke="none" stroke-width="0.6"/>
<circle cx="411.00" cy="118.21" r="1.05" fill="#1a5a38" stroke="none" stroke-width="0.6"/>
<rect x="465.80" y="88.28" width="6.00" height="42.22" fill="#5e9b7c"/>
<line x1="468.8" y1="88.2832" x2="468.8" y2="84.2152" stroke="#333" stroke-width="0.6"/>
<line x1="468.0" y1="84.2152" x2="469.6" y2="84.2152" stroke="#333" stroke-width="0.6"/>
<circle cx="467.40" cy="89.19" r="0.9" fill="#1a5a38" stroke="none" stroke-width="0.6"/>
<circle cx="468.80" cy="84.22" r="0.9" fill="#1a5a38" stroke="none" stroke-width="0.6"/>
<circle cx="470.20" cy="88.06" r="0.9" fill="#1a5a38" stroke="none" stroke-width="0.6"/>
<circle cx="468.80" cy="93.71" r="0.9" fill="#1a5a38" stroke="none" stroke-width="0.6"/>
<rect x="415.40" y="121.69" width="6.20" height="8.81" fill="#e2f0dc"/>
<line x1="416.7" y1="121.686" x2="420.3" y2="121.686" stroke="#3a8a3a" stroke-width="0.7"/>
<circle cx="416.70" cy="120.33" r="1.05" fill="#3a8a3a" stroke="none" stroke-width="0.6"/>
<circle cx="419.90" cy="121.23" r="1.05" fill="#3a8a3a" stroke="none" stroke-width="0.6"/>
<circle cx="416.70" cy="123.04" r="1.05" fill="#3a8a3a" stroke="none" stroke-width="0.6"/>
<circle cx="418.70" cy="119.20" r="1.05" fill="#3a8a3a" stroke="none" stroke-width="0.6"/>
<rect x="473.50" y="100.80" width="6.00" height="29.70" fill="#82c477"/>
<line x1="476.5" y1="100.80359999999999" x2="476.5" y2="96.7356" stroke="#333" stroke-width="0.6"/>
<line x1="475.7" y1="96.7356" x2="477.3" y2="96.7356" stroke="#333" stroke-width="0.6"/>
<circle cx="475.10" cy="101.71" r="0.9" fill="#3a8a3a" stroke="none" stroke-width="0.6"/>
<circle cx="476.50" cy="96.74" r="0.9" fill="#3a8a3a" stroke="none" stroke-width="0.6"/>
<circle cx="477.90" cy="100.58" r="0.9" fill="#3a8a3a" stroke="none" stroke-width="0.6"/>
<circle cx="476.50" cy="106.23" r="0.9" fill="#3a8a3a" stroke="none" stroke-width="0.6"/>
<line x1="368.0" y1="133.5" x2="419.7" y2="133.5" stroke="#222" stroke-width="1.0"/>
<line x1="426.3" y1="133.5" x2="477.4" y2="133.5" stroke="#222" stroke-width="1.0"/>
<text x="393.6" y="142.8" font-size="7.4" text-anchor="middle" fill="#222">UNSTIM</text>
<text x="451.5" y="142.8" font-size="7.4" text-anchor="middle" fill="#222">αCD3/28</text>
<text x="192.5" y="182.6" font-size="10.5" text-anchor="start" fill="#111" font-weight="bold">C</text>
<rect x="238.00" y="181.30" width="12.40" height="5.80" fill="#dcdde1"/>
<text x="252.5" y="186.9" font-size="7.8" text-anchor="start" fill="#222">PBMC UNSTIM</text>
<rect x="238.00" y="193.70" width="12.40" height="5.80" fill="#8a929a"/>
<text x="252.5" y="199.29999999999998" font-size="7.8" text-anchor="start" fill="#222">PBMC + αCD3/28</text>
<rect x="321.60" y="181.30" width="12.40" height="5.80" fill="#9a70a8"/>
<text x="336.1" y="186.9" font-size="7.8" text-anchor="start" fill="#222">PBMC + αCD3/28 + PGA-1</text>
<rect x="321.60" y="193.70" width="12.40" height="5.80" fill="#e6587a"/>
<text x="336.1" y="199.29999999999998" font-size="7.8" text-anchor="start" fill="#222">PBMC + αCD3/28 + HYP</text>
<line x1="229.3" y1="219.7" x2="229.3" y2="279.5" stroke="#222" stroke-width="0.9"/>
<line x1="226.3" y1="221.5" x2="229.3" y2="221.5" stroke="#222" stroke-width="0.9"/>
<text x="223.9" y="224.3" font-size="7.8" text-anchor="end" fill="#222">8000</text>
<line x1="226.3" y1="236.0" x2="229.3" y2="236.0" stroke="#222" stroke-width="0.9"/>
<text x="223.9" y="238.8" font-size="7.8" text-anchor="end" fill="#222">6000</text>
<line x1="226.3" y1="250.5" x2="229.3" y2="250.5" stroke="#222" stroke-width="0.9"/>
<text x="223.9" y="253.3" font-size="7.8" text-anchor="end" fill="#222">4000</text>
<line x1="226.3" y1="265.0" x2="229.3" y2="265.0" stroke="#222" stroke-width="0.9"/>
<text x="223.9" y="267.8" font-size="7.8" text-anchor="end" fill="#222">2000</text>
<line x1="226.3" y1="279.5" x2="229.3" y2="279.5" stroke="#222" stroke-width="0.9"/>
<text x="223.9" y="282.3" font-size="7.8" text-anchor="end" fill="#222">0</text>
<line x1="229.3" y1="279.5" x2="268.5" y2="279.5" stroke="#222" stroke-width="0.9"/>
<text x="248.7" y="211.9" font-size="7.5" text-anchor="middle" fill="#222" font-style="italic">HIF1A</text>
<text x="200.1" y="248.6" font-size="8.6" text-anchor="middle" fill="#222" transform="rotate(-90 200.1 248.6)" textLength="61" lengthAdjust="spacingAndGlyphs" stroke="#222" stroke-width="0.15">Rel. mRNA expression</text>
<rect x="233.00" y="267.90" width="6.70" height="11.60" fill="#dcdde1"/>
<line x1="236.35" y1="267.9" x2="236.35" y2="266.0875" stroke="#ccc" stroke-width="0.8"/>
<line x1="235.04999999999998" y1="266.0875" x2="237.65" y2="266.0875" stroke="#ccc" stroke-width="0.8"/>
<rect x="241.00" y="258.48" width="6.70" height="21.02" fill="#8a929a"/>
<line x1="244.35" y1="258.475" x2="244.35" y2="254.85" stroke="#8a929a" stroke-width="0.8"/>
<line x1="243.04999999999998" y1="254.85" x2="245.65" y2="254.85" stroke="#8a929a" stroke-width="0.8"/>
<rect x="249.10" y="256.30" width="6.70" height="23.20" fill="#9a70a8"/>
<line x1="252.45" y1="256.3" x2="252.45" y2="249.05" stroke="#9a70a8" stroke-width="0.8"/>
<line x1="251.14999999999998" y1="249.05" x2="253.75" y2="249.05" stroke="#9a70a8" stroke-width="0.8"/>
<rect x="257.70" y="265.73" width="6.70" height="13.77" fill="#e6587a"/>
<line x1="261.05" y1="265.725" x2="261.05" y2="262.825" stroke="#e6587a" stroke-width="0.8"/>
<line x1="259.75" y1="262.825" x2="262.35" y2="262.825" stroke="#e6587a" stroke-width="0.8"/>
<polyline points="243.5,245.60000000000002 243.5,242.8 252.8,242.8 252.8,245.60000000000002" fill="none" stroke="#222" stroke-width="0.9"/>
<text x="248.15" y="240.4" font-size="7.3" text-anchor="middle" fill="#222">ns</text>
<line x1="304.4" y1="219.75" x2="304.4" y2="279.3" stroke="#222" stroke-width="0.9"/>
<line x1="301.4" y1="221.55" x2="304.4" y2="221.55" stroke="#222" stroke-width="0.9"/>
<text x="299.0" y="224.35000000000002" font-size="7.8" text-anchor="end" fill="#222">500</text>
<line x1="301.4" y1="233.10000000000002" x2="304.4" y2="233.10000000000002" stroke="#222" stroke-width="0.9"/>
<text x="299.0" y="235.90000000000003" font-size="7.8" text-anchor="end" fill="#222">400</text>
<line x1="301.4" y1="244.65" x2="304.4" y2="244.65" stroke="#222" stroke-width="0.9"/>
<text x="299.0" y="247.45000000000002" font-size="7.8" text-anchor="end" fill="#222">300</text>
<line x1="301.4" y1="256.2" x2="304.4" y2="256.2" stroke="#222" stroke-width="0.9"/>
<text x="299.0" y="259.0" font-size="7.8" text-anchor="end" fill="#222">200</text>
<line x1="301.4" y1="267.75" x2="304.4" y2="267.75" stroke="#222" stroke-width="0.9"/>
<text x="299.0" y="270.55" font-size="7.8" text-anchor="end" fill="#222">100</text>
<line x1="301.4" y1="279.3" x2="304.4" y2="279.3" stroke="#222" stroke-width="0.9"/>
<text x="299.0" y="282.1" font-size="7.8" text-anchor="end" fill="#222">0</text>
<line x1="304.4" y1="279.3" x2="344" y2="279.3" stroke="#222" stroke-width="0.9"/>
<text x="325.3" y="211.9" font-size="7.5" text-anchor="middle" fill="#222" font-style="italic">VEGFA</text>
<text x="281.40000000000003" y="248.6" font-size="8.6" text-anchor="middle" fill="#222" transform="rotate(-90 281.40000000000003 248.6)" textLength="61" lengthAdjust="spacingAndGlyphs" stroke="#222" stroke-width="0.15">Rel. mRNA expression</text>
<rect x="308.20" y="270.64" width="6.60" height="8.66" fill="#dcdde1"/>
<line x1="311.5" y1="270.6375" x2="311.5" y2="267.75" stroke="#ccc" stroke-width="0.8"/>
<line x1="310.2" y1="267.75" x2="312.8" y2="267.75" stroke="#ccc" stroke-width="0.8"/>
<rect x="316.30" y="276.18" width="6.60" height="3.12" fill="#8a929a"/>
<line x1="319.6" y1="276.1815" x2="319.6" y2="274.1025" stroke="#8a929a" stroke-width="0.8"/>
<line x1="318.3" y1="274.1025" x2="320.90000000000003" y2="274.1025" stroke="#8a929a" stroke-width="0.8"/>
<rect x="324.70" y="239.22" width="6.60" height="40.08" fill="#9a70a8"/>
<line x1="328.0" y1="239.2215" x2="328.0" y2="231.945" stroke="#9a70a8" stroke-width="0.8"/>
<line x1="326.7" y1="231.945" x2="329.3" y2="231.945" stroke="#9a70a8" stroke-width="0.8"/>
<rect x="333.30" y="264.29" width="6.60" height="15.01" fill="#e6587a"/>
<line x1="336.6" y1="264.285" x2="336.6" y2="255.04500000000002" stroke="#e6587a" stroke-width="0.8"/>
<line x1="335.3" y1="255.04500000000002" x2="337.90000000000003" y2="255.04500000000002" stroke="#e6587a" stroke-width="0.8"/>
<polyline points="319.0,227.8 319.0,225.0 328.5,225.0 328.5,227.8" fill="none" stroke="#222" stroke-width="0.9"/>
<circle cx="323.75" cy="222.50" r="1.2" fill="#222" stroke="none" stroke-width="0.6"/>
<line x1="385.1" y1="219.0" x2="385.1" y2="279.0" stroke="#222" stroke-width="0.9"/>
<line x1="382.1" y1="220.8" x2="385.1" y2="220.8" stroke="#222" stroke-width="0.9"/>
<text x="379.70000000000005" y="223.60000000000002" font-size="7.8" text-anchor="end" fill="#222">3000</text>
<line x1="382.1" y1="240.2" x2="385.1" y2="240.2" stroke="#222" stroke-width="0.9"/>
<text x="379.70000000000005" y="243.0" font-size="7.8" text-anchor="end" fill="#222">2000</text>
<line x1="382.1" y1="259.6" x2="385.1" y2="259.6" stroke="#222" stroke-width="0.9"/>
<text x="379.70000000000005" y="262.40000000000003" font-size="7.8" text-anchor="end" fill="#222">1000</text>
<line x1="382.1" y1="279.0" x2="385.1" y2="279.0" stroke="#222" stroke-width="0.9"/>
<text x="379.70000000000005" y="281.8" font-size="7.8" text-anchor="end" fill="#222">0</text>
<line x1="385.1" y1="279.0" x2="423" y2="279.0" stroke="#222" stroke-width="0.9"/>
<text x="404.7" y="211.9" font-size="7.5" text-anchor="middle" fill="#222" font-style="italic">PDK1</text>
<text x="356.40000000000003" y="248.6" font-size="8.6" text-anchor="middle" fill="#222" transform="rotate(-90 356.40000000000003 248.6)" textLength="61" lengthAdjust="spacingAndGlyphs" stroke="#222" stroke-width="0.15">Rel. mRNA expression</text>
<rect x="389.20" y="228.37" width="6.30" height="50.63" fill="#dcdde1"/>
<line x1="392.34999999999997" y1="228.366" x2="392.34999999999997" y2="225.65" stroke="#ccc" stroke-width="0.8"/>
<line x1="391.04999999999995" y1="225.65" x2="393.65" y2="225.65" stroke="#ccc" stroke-width="0.8"/>
<rect x="398.00" y="273.18" width="6.30" height="5.82" fill="#8a929a"/>
<line x1="401.15" y1="273.18" x2="401.15" y2="270.658" stroke="#8a929a" stroke-width="0.8"/>
<line x1="399.84999999999997" y1="270.658" x2="402.45" y2="270.658" stroke="#8a929a" stroke-width="0.8"/>
<rect x="406.40" y="262.32" width="6.30" height="16.68" fill="#9a70a8"/>
<line x1="409.54999999999995" y1="262.31600000000003" x2="409.54999999999995" y2="259.988" stroke="#9a70a8" stroke-width="0.8"/>
<line x1="408.24999999999994" y1="259.988" x2="410.84999999999997" y2="259.988" stroke="#9a70a8" stroke-width="0.8"/>
<rect x="415.10" y="267.94" width="6.30" height="11.06" fill="#e6587a"/>
<line x1="418.25" y1="267.942" x2="418.25" y2="266.972" stroke="#e6587a" stroke-width="0.8"/>
<line x1="416.95" y1="266.972" x2="419.55" y2="266.972" stroke="#e6587a" stroke-width="0.8"/>
<polyline points="400.1,255.4 400.1,252.6 409.1,252.6 409.1,255.4" fill="none" stroke="#222" stroke-width="0.9"/>
<circle cx="404.60" cy="250.10" r="1.2" fill="#222" stroke="none" stroke-width="0.6"/>
<line x1="474.6" y1="219.19999999999996" x2="474.6" y2="278.4" stroke="#222" stroke-width="0.9"/>
<line x1="471.6" y1="220.99999999999997" x2="474.6" y2="220.99999999999997" stroke="#222" stroke-width="0.9"/>
<text x="469.20000000000005" y="223.79999999999998" font-size="7.8" text-anchor="end" fill="#222">200000</text>
<line x1="471.6" y1="235.34999999999997" x2="474.6" y2="235.34999999999997" stroke="#222" stroke-width="0.9"/>
<text x="469.20000000000005" y="238.14999999999998" font-size="7.8" text-anchor="end" fill="#222">150000</text>
<line x1="471.6" y1="249.7" x2="474.6" y2="249.7" stroke="#222" stroke-width="0.9"/>
<text x="469.20000000000005" y="252.5" font-size="7.8" text-anchor="end" fill="#222">100000</text>
<line x1="471.6" y1="264.04999999999995" x2="474.6" y2="264.04999999999995" stroke="#222" stroke-width="0.9"/>
<text x="469.20000000000005" y="266.84999999999997" font-size="7.8" text-anchor="end" fill="#222">50000</text>
<line x1="471.6" y1="278.4" x2="474.6" y2="278.4" stroke="#222" stroke-width="0.9"/>
<text x="469.20000000000005" y="281.2" font-size="7.8" text-anchor="end" fill="#222">0</text>
<line x1="474.6" y1="278.4" x2="513.2" y2="278.4" stroke="#222" stroke-width="0.9"/>
<text x="493.8" y="213.4" font-size="7.5" text-anchor="middle" fill="#222" font-style="italic">LDHA</text>
<text x="436.90000000000003" y="248.6" font-size="8.6" text-anchor="middle" fill="#222" transform="rotate(-90 436.90000000000003 248.6)" textLength="61" lengthAdjust="spacingAndGlyphs" stroke="#222" stroke-width="0.15">Rel. mRNA expression</text>
<rect x="478.60" y="272.66" width="6.50" height="5.74" fill="#dcdde1"/>
<line x1="481.85" y1="272.65999999999997" x2="481.85" y2="272.08599999999996" stroke="#ccc" stroke-width="0.8"/>
<line x1="480.55" y1="272.08599999999996" x2="483.15000000000003" y2="272.08599999999996" stroke="#ccc" stroke-width="0.8"/>
<rect x="487.40" y="263.48" width="6.50" height="14.92" fill="#8a929a"/>
<line x1="490.65" y1="263.476" x2="490.65" y2="261.75399999999996" stroke="#8a929a" stroke-width="0.8"/>
<line x1="489.34999999999997" y1="261.75399999999996" x2="491.95" y2="261.75399999999996" stroke="#8a929a" stroke-width="0.8"/>
<rect x="496.00" y="239.37" width="6.50" height="39.03" fill="#9a70a8"/>
<line x1="499.25" y1="239.368" x2="499.25" y2="233.05399999999997" stroke="#9a70a8" stroke-width="0.8"/>
<line x1="497.95" y1="233.05399999999997" x2="500.55" y2="233.05399999999997" stroke="#9a70a8" stroke-width="0.8"/>
<rect x="504.30" y="231.04" width="6.50" height="47.35" fill="#e6587a"/>
<line x1="507.55" y1="231.045" x2="507.55" y2="225.30499999999998" stroke="#e6587a" stroke-width="0.8"/>
<line x1="506.25" y1="225.30499999999998" x2="508.85" y2="225.30499999999998" stroke="#e6587a" stroke-width="0.8"/>
<polyline points="490.0,225.4 490.0,222.6 497.7,222.6 497.7,225.4" fill="none" stroke="#222" stroke-width="0.9"/>
<circle cx="493.85" cy="220.10" r="1.2" fill="#222" stroke="none" stroke-width="0.6"/>
<text x="7.2" y="302" font-size="10.5" text-anchor="start" fill="#111" font-weight="bold">D</text>
<line x1="50.6" y1="311.8" x2="50.6" y2="390" stroke="#222" stroke-width="0.9"/>
<line x1="47.6" y1="313.6" x2="50.6" y2="313.6" stroke="#222" stroke-width="0.9"/>
<text x="45.2" y="316.40000000000003" font-size="7.8" text-anchor="end" fill="#222">100</text>
<line x1="47.6" y1="332.7" x2="50.6" y2="332.7" stroke="#222" stroke-width="0.9"/>
<text x="45.2" y="335.5" font-size="7.8" text-anchor="end" fill="#222">75</text>
<line x1="47.6" y1="351.8" x2="50.6" y2="351.8" stroke="#222" stroke-width="0.9"/>
<text x="45.2" y="354.6" font-size="7.8" text-anchor="end" fill="#222">50</text>
<line x1="47.6" y1="370.9" x2="50.6" y2="370.9" stroke="#222" stroke-width="0.9"/>
<text x="45.2" y="373.7" font-size="7.8" text-anchor="end" fill="#222">25</text>
<line x1="47.6" y1="390.0" x2="50.6" y2="390.0" stroke="#222" stroke-width="0.9"/>
<text x="45.2" y="392.8" font-size="7.8" text-anchor="end" fill="#222">0</text>
<line x1="50.6" y1="390" x2="103.4" y2="390" stroke="#222" stroke-width="0.9"/>
<text x="24.8" y="350" font-size="7.6" text-anchor="middle" fill="#222" transform="rotate(-90 24.8 350)" stroke="#222" stroke-width="0.2">% pS6</text>
<rect x="59.30" y="326.59" width="15.50" height="63.41" fill="#8c949c"/>
<rect x="78.50" y="380.45" width="15.40" height="9.55" fill="#a070a8"/>
<line x1="67" y1="326.588" x2="67" y2="322" stroke="#dde" stroke-width="0.9"/>
<line x1="64.0" y1="322" x2="70.0" y2="322" stroke="#dde" stroke-width="0.9"/>
<line x1="86.2" y1="380.45" x2="86.2" y2="377.776" stroke="#c9a" stroke-width="0.8"/>
<line x1="84.2" y1="377.776" x2="88.2" y2="377.776" stroke="#c9a" stroke-width="0.8"/>
<circle cx="64.40" cy="316.50" r="1.5" fill="#2a2e4a" stroke="none" stroke-width="0.6"/>
<circle cx="70.30" cy="317.60" r="1.5" fill="#2a2e4a" stroke="none" stroke-width="0.6"/>
<circle cx="67.00" cy="326.00" r="1.5" fill="#2a2e4a" stroke="none" stroke-width="0.6"/>
<circle cx="66.60" cy="332.60" r="1.5" fill="#2a2e4a" stroke="none" stroke-width="0.6"/>
<circle cx="66.60" cy="340.80" r="1.5" fill="#2a2e4a" stroke="none" stroke-width="0.6"/>
<circle cx="82.00" cy="381.30" r="1.5" fill="#2a1a40" stroke="none" stroke-width="0.6"/>
<circle cx="85.80" cy="376.00" r="1.5" fill="#2a1a40" stroke="none" stroke-width="0.6"/>
<circle cx="85.80" cy="381.50" r="1.5" fill="#2a1a40" stroke="none" stroke-width="0.6"/>
<circle cx="89.10" cy="381.10" r="1.5" fill="#2a1a40" stroke="none" stroke-width="0.6"/>
<circle cx="92.40" cy="381.10" r="1.5" fill="#2a1a40" stroke="none" stroke-width="0.6"/>
<polyline points="60.4,315.09999999999997 60.4,311.9 72.6,311.9 72.6,315.09999999999997" fill="none" stroke="#222" stroke-width="0.9"/>
<circle cx="63.40" cy="306.50" r="1.2" fill="#222" stroke="none" stroke-width="0.6"/>
<circle cx="66.40" cy="306.50" r="1.2" fill="#222" stroke="none" stroke-width="0.6"/>
<circle cx="69.40" cy="306.50" r="1.2" fill="#222" stroke="none" stroke-width="0.6"/>
<text x="120" y="302" font-size="10.5" text-anchor="start" fill="#111" font-weight="bold">E</text>
<line x1="159" y1="311.0" x2="159" y2="390" stroke="#222" stroke-width="0.9"/>
<line x1="156.0" y1="312.8" x2="159" y2="312.8" stroke="#222" stroke-width="0.9"/>
<text x="153.6" y="315.6" font-size="7.8" text-anchor="end" fill="#222">2.5</text>
<line x1="156.0" y1="328.24" x2="159" y2="328.24" stroke="#222" stroke-width="0.9"/>
<text x="153.6" y="331.04" font-size="7.8" text-anchor="end" fill="#222">2.0</text>
<line x1="156.0" y1="343.68" x2="159" y2="343.68" stroke="#222" stroke-width="0.9"/>
<text x="153.6" y="346.48" font-size="7.8" text-anchor="end" fill="#222">1.5</text>
<line x1="156.0" y1="359.12" x2="159" y2="359.12" stroke="#222" stroke-width="0.9"/>
<text x="153.6" y="361.92" font-size="7.8" text-anchor="end" fill="#222">1.0</text>
<line x1="156.0" y1="374.56" x2="159" y2="374.56" stroke="#222" stroke-width="0.9"/>
<text x="153.6" y="377.36" font-size="7.8" text-anchor="end" fill="#222">0.5</text>
<line x1="156.0" y1="390.0" x2="159" y2="390.0" stroke="#222" stroke-width="0.9"/>
<text x="153.6" y="392.8" font-size="7.8" text-anchor="end" fill="#222">0.0</text>
<line x1="159" y1="390" x2="211.3" y2="390" stroke="#222" stroke-width="0.9"/>
<text x="137.6" y="351" font-size="8.2" text-anchor="middle" fill="#222" transform="rotate(-90 137.6 351)" textLength="44" lengthAdjust="spacingAndGlyphs" stroke="#222" stroke-width="0.25">Ratio α-KG/SA</text>
<rect x="163.20" y="338.12" width="11.50" height="51.88" fill="#e6e7eb"/>
<rect x="179.30" y="335.03" width="11.40" height="54.97" fill="#8c949c"/>
<rect x="194.20" y="383.82" width="12.40" height="6.18" fill="#a070a8"/>
<line x1="169" y1="338.1216" x2="169" y2="319.9024" stroke="#d0d0d8" stroke-width="0.9"/>
<line x1="167.25" y1="319.9024" x2="170.75" y2="319.9024" stroke="#d0d0d8" stroke-width="0.9"/>
<line x1="169" y1="338.1216" x2="169" y2="356.032" stroke="#d0d0d8" stroke-width="0.9"/>
<line x1="185" y1="335.0336" x2="185" y2="327.3136" stroke="#333" stroke-width="0.8"/>
<line x1="183.25" y1="327.3136" x2="186.75" y2="327.3136" stroke="#333" stroke-width="0.8"/>
<circle cx="169.00" cy="322.06" r="1.1" fill="#dcdce4" stroke="none" stroke-width="0.6"/>
<circle cx="169.00" cy="346.77" r="1.1" fill="#dcdce4" stroke="none" stroke-width="0.6"/>
<circle cx="169.00" cy="371.47" r="1.1" fill="#dcdce4" stroke="none" stroke-width="0.6"/>
<circle cx="182.50" cy="327.00" r="1.1" fill="#2a2e4a" stroke="none" stroke-width="0.6"/>
<circle cx="187.50" cy="328.24" r="1.1" fill="#2a2e4a" stroke="none" stroke-width="0.6"/>
<circle cx="185.00" cy="344.30" r="1.1" fill="#2a2e4a" stroke="none" stroke-width="0.6"/>
<circle cx="197.00" cy="383.82" r="1.1" fill="#2a1a40" stroke="none" stroke-width="0.6"/>
<circle cx="200.50" cy="382.28" r="1.1" fill="#2a1a40" stroke="none" stroke-width="0.6"/>
<circle cx="204.00" cy="383.21" r="1.1" fill="#2a1a40" stroke="none" stroke-width="0.6"/>
<line x1="160.8" y1="393.5" x2="174.6" y2="393.5" stroke="#555" stroke-width="1.1"/>
<line x1="177.7" y1="393.5" x2="205.4" y2="393.5" stroke="#555" stroke-width="1.1"/>
<text x="170.5" y="399.5" font-size="7.8" text-anchor="end" fill="#222" transform="rotate(-45 170.5 399.5)">UNSTIM</text>
<text x="196.8" y="400.0" font-size="7.8" text-anchor="end" fill="#222" transform="rotate(-45 196.8 400.0)">αCD3/28</text>
<text x="228.2" y="302" font-size="10.5" text-anchor="start" fill="#111" font-weight="bold">F</text>
<line x1="266.4" y1="311.0" x2="266.4" y2="390" stroke="#222" stroke-width="0.9"/>
<line x1="263.4" y1="312.8" x2="266.4" y2="312.8" stroke="#222" stroke-width="0.9"/>
<text x="261.0" y="315.6" font-size="7.8" text-anchor="end" fill="#222">40</text>
<line x1="263.4" y1="332.1" x2="266.4" y2="332.1" stroke="#222" stroke-width="0.9"/>
<text x="261.0" y="334.90000000000003" font-size="7.8" text-anchor="end" fill="#222">30</text>
<line x1="263.4" y1="351.4" x2="266.4" y2="351.4" stroke="#222" stroke-width="0.9"/>
<text x="261.0" y="354.2" font-size="7.8" text-anchor="end" fill="#222">20</text>
<line x1="263.4" y1="370.7" x2="266.4" y2="370.7" stroke="#222" stroke-width="0.9"/>
<text x="261.0" y="373.5" font-size="7.8" text-anchor="end" fill="#222">10</text>
<line x1="263.4" y1="390.0" x2="266.4" y2="390.0" stroke="#222" stroke-width="0.9"/>
<text x="261.0" y="392.8" font-size="7.8" text-anchor="end" fill="#222">0</text>
<line x1="266.4" y1="390" x2="319.7" y2="390" stroke="#222" stroke-width="0.9"/>
<text x="246.6" y="350" font-size="8.2" text-anchor="middle" fill="#222" transform="rotate(-90 246.6 350)" textLength="52" lengthAdjust="spacingAndGlyphs" stroke="#222" stroke-width="0.25">Ratio NAD<tspan baseline-shift="super" font-size="5">+</tspan>/NADH</text>
<rect x="268.90" y="385.37" width="13.60" height="4.63" fill="#e2e3e7"/>
<rect x="285.90" y="385.18" width="13.50" height="4.82" fill="#8a98aa"/>
<rect x="302.10" y="352.37" width="11.90" height="37.63" fill="#9b6aa5"/>
<line x1="275.7" y1="385.368" x2="275.7" y2="380.35" stroke="#c8c8d0" stroke-width="0.9"/>
<line x1="273.7" y1="380.35" x2="277.7" y2="380.35" stroke="#c8c8d0" stroke-width="0.9"/>
<line x1="292.6" y1="385.175" x2="292.6" y2="382.473" stroke="#555" stroke-width="0.8"/>
<line x1="290.6" y1="382.473" x2="294.6" y2="382.473" stroke="#555" stroke-width="0.8"/>
<line x1="308" y1="352.365" x2="308" y2="338.855" stroke="#333" stroke-width="0.8"/>
<line x1="306.0" y1="338.855" x2="310.0" y2="338.855" stroke="#333" stroke-width="0.8"/>
<line x1="308" y1="352.365" x2="308" y2="365.296" stroke="#333" stroke-width="0.8"/>
<line x1="306" y1="365.296" x2="310" y2="365.296" stroke="#333" stroke-width="0.8"/>
<circle cx="307.90" cy="328.30" r="1.1" fill="#2a1a40" stroke="none" stroke-width="0.6"/>
<circle cx="307.90" cy="356.80" r="1.1" fill="#2a1a40" stroke="none" stroke-width="0.6"/>
<circle cx="307.90" cy="372.00" r="1.1" fill="#2a1a40" stroke="none" stroke-width="0.6"/>
<circle cx="289.50" cy="383.63" r="1.0" fill="#2a3a5a" stroke="none" stroke-width="0.6"/>
<circle cx="292.50" cy="382.47" r="1.0" fill="#2a3a5a" stroke="none" stroke-width="0.6"/>
<circle cx="295.50" cy="383.82" r="1.0" fill="#2a3a5a" stroke="none" stroke-width="0.6"/>
<line x1="270" y1="393.5" x2="282.5" y2="393.5" stroke="#555" stroke-width="1.1"/>
<line x1="285.9" y1="393.5" x2="314" y2="393.5" stroke="#555" stroke-width="1.1"/>
<text x="278.5" y="399.5" font-size="7.8" text-anchor="end" fill="#222" transform="rotate(-45 278.5 399.5)">UNSTIM</text>
<text x="304.0" y="400.0" font-size="7.8" text-anchor="end" fill="#222" transform="rotate(-45 304.0 400.0)">αCD3/28</text>
<text x="336.2" y="302" font-size="10.5" text-anchor="start" fill="#111" font-weight="bold">G</text>
<text x="354" y="314.6" font-size="7.5" text-anchor="start" fill="#222">HIF-1α</text>
<text x="397.3" y="316.8" font-size="7.7" text-anchor="start" fill="#222">HIF-1α-OH</text>
<text x="456.5" y="316.8" font-size="7.2" text-anchor="start" fill="#222">proteasome</text>
<path d="M368.5,317.8 C373,327 378,336.5 386,336.5 C394,336.5 401,326 405.2,319.8" fill="none" stroke="#222" stroke-width="1.05"/>
<path d="M406.3,317.6 L402.3,319.4 L405.4,322.3 Z" fill="#222"/>
<path d="M364,331 C368,329.5 372,329.5 376.5,330.6" fill="none" stroke="#222" stroke-width="1.0"/>
<text x="354" y="333.8" font-size="7.5" text-anchor="start" fill="#222">O<tspan font-size="5" dy="1.6">2</tspan></text>
<line x1="437.6" y1="314.3" x2="451.5" y2="314.3" stroke="#222" stroke-width="0.9"/>
<path d="M453.5,314.3 L449.5,312.4 L449.5,316.2 Z" fill="#222"/>
<text x="377.6" y="345.8" font-size="7.5" text-anchor="start" fill="#222" textLength="16" lengthAdjust="spacingAndGlyphs">PHD</text>
<line x1="383.3" y1="350.0" x2="388.1" y2="350.0" stroke="#222" stroke-width="1.0"/>
<line x1="385.7" y1="350.0" x2="385.7" y2="356.2" stroke="#222" stroke-width="1.0"/>
<line x1="368.2" y1="361.8" x2="368.2" y2="368.9" stroke="#222" stroke-width="0.95"/>
<path d="M368.2,371.8 L366.3,367.9 L370.09999999999997,367.9 Z" fill="#222"/>
<text x="370.8" y="368.5" font-size="7.5" text-anchor="start" fill="#222">α-KG</text>
<line x1="391.9" y1="371.5" x2="391.9" y2="364.40000000000003" stroke="#222" stroke-width="0.95"/>
<path d="M391.9,361.5 L390.0,365.40000000000003 L393.79999999999995,365.40000000000003 Z" fill="#222"/>
<text x="395.8" y="368.5" font-size="7.5" text-anchor="start" fill="#222">SA</text>
<line x1="387.3" y1="387.5" x2="387.3" y2="380.1" stroke="#222" stroke-width="0.95"/>
<path d="M387.3,377.2 L385.40000000000003,381.1 L389.2,381.1 Z" fill="#222"/>
<line x1="363.3" y1="391.0" x2="363.3" y2="398.09999999999997" stroke="#222" stroke-width="0.95"/>
<path d="M363.3,401.0 L361.40000000000003,397.09999999999997 L365.2,397.09999999999997 Z" fill="#222"/>
<text x="366.2" y="399.4" font-size="7.5" text-anchor="start" fill="#222">NADH</text>
<line x1="389.8" y1="402.0" x2="389.8" y2="393.6" stroke="#222" stroke-width="0.95"/>
<path d="M389.8,390.7 L387.90000000000003,394.6 L391.7,394.6 Z" fill="#222"/>
<text x="393.8" y="399.4" font-size="7.5" text-anchor="start" fill="#222">NAD<tspan font-size="4.5" dy="-3">+</tspan></text>
<line x1="0.55" y1="0" x2="0.55" y2="431" stroke="#646464" stroke-width="1.1"/>
<line x1="0" y1="0.55" x2="520" y2="0.55" stroke="#686868" stroke-width="1.1"/>
<line x1="519.3" y1="0" x2="519.3" y2="431" stroke="#555" stroke-width="1.4"/>
<line x1="0" y1="430.3" x2="520" y2="430.3" stroke="#3c3c3c" stroke-width="1.4"/>
</svg></body></html>
